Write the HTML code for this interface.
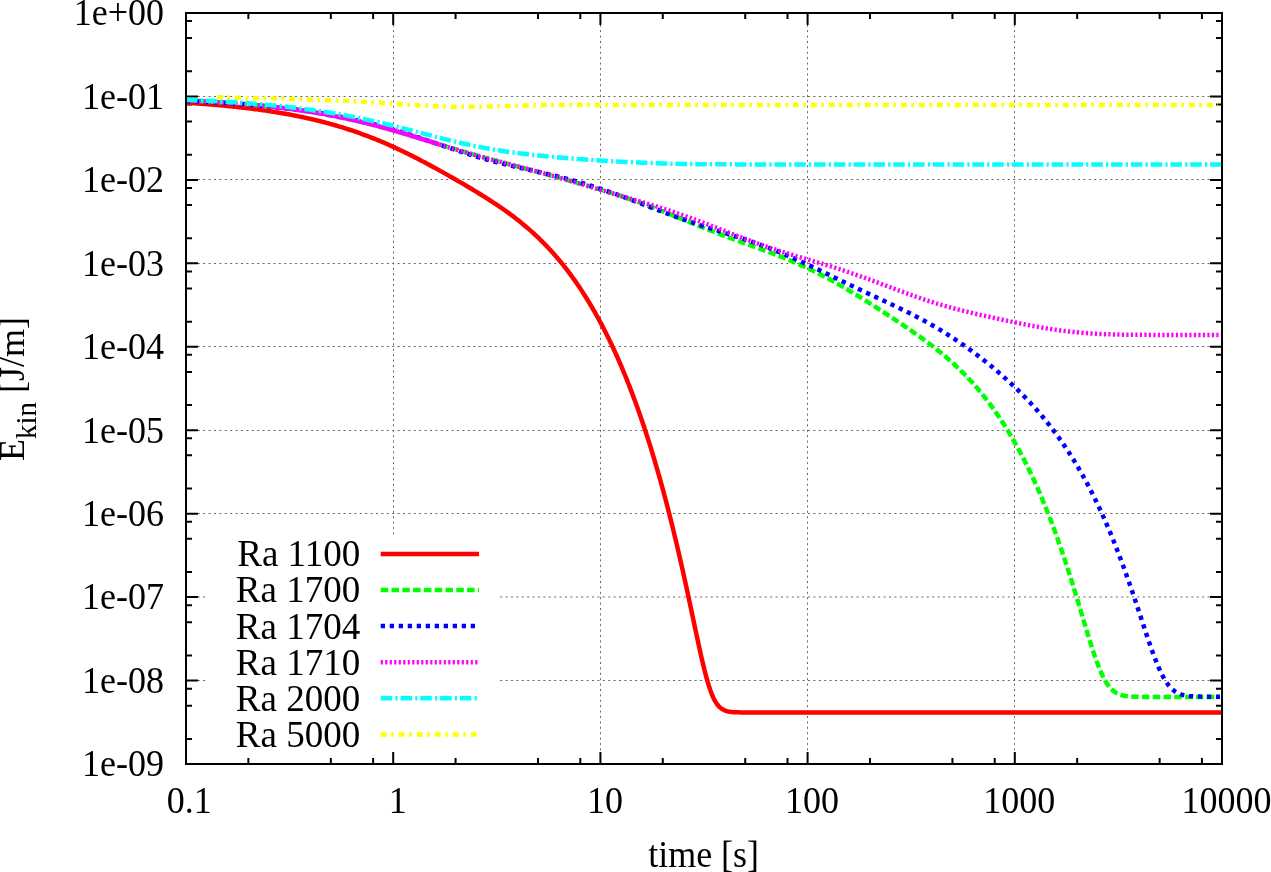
<!DOCTYPE html>
<html><head><meta charset="utf-8"><style>html,body{margin:0;padding:0;background:#fff;overflow:hidden}svg{display:block;will-change:transform}</style></head>
<body><svg width="1271" height="872" viewBox="0 0 1271 872" font-family='"Liberation Serif", serif' font-size="36" fill="#000">
<path d="M393.5 14.0V763.0 M600.5 14.0V763.0 M807.5 14.0V763.0 M1014.5 14.0V763.0 M187.0 96.5H1221.0 M187.0 179.5H1221.0 M187.0 263.5H1221.0 M187.0 346.5H1221.0 M187.0 430.5H1221.0 M187.0 513.5H1221.0 M187.0 597.0H1221.0 M187.0 680.5H1221.0" stroke="#666" stroke-width="1" stroke-dasharray="2 3.4" fill="none"/>
<rect x="207" y="537" width="293" height="226" fill="#fff"/>
<path d="M186.00 764.0v-12M186.00 13.0v12 M248.37 764.0v-6M248.37 13.0v6 M330.83 764.0v-6M330.83 13.0v6 M373.12 764.0v-6M373.12 13.0v6 M393.20 764.0v-12M393.20 13.0v12 M455.57 764.0v-6M455.57 13.0v6 M538.03 764.0v-6M538.03 13.0v6 M580.32 764.0v-6M580.32 13.0v6 M600.40 764.0v-12M600.40 13.0v12 M662.77 764.0v-6M662.77 13.0v6 M745.23 764.0v-6M745.23 13.0v6 M787.52 764.0v-6M787.52 13.0v6 M807.60 764.0v-12M807.60 13.0v12 M869.97 764.0v-6M869.97 13.0v6 M952.43 764.0v-6M952.43 13.0v6 M994.72 764.0v-6M994.72 13.0v6 M1014.80 764.0v-12M1014.80 13.0v12 M1077.17 764.0v-6M1077.17 13.0v6 M1159.63 764.0v-6M1159.63 13.0v6 M1201.92 764.0v-6M1201.92 13.0v6 M1222.00 764.0v-12M1222.00 13.0v12 M186.0 13.00h12M1222.0 13.00h-12 M186.0 96.44h12M1222.0 96.44h-12 M186.0 71.33h6M1222.0 71.33h-6 M186.0 38.12h6M1222.0 38.12h-6 M186.0 21.09h6M1222.0 21.09h-6 M186.0 179.89h12M1222.0 179.89h-12 M186.0 154.77h6M1222.0 154.77h-6 M186.0 121.56h6M1222.0 121.56h-6 M186.0 104.53h6M1222.0 104.53h-6 M186.0 263.33h12M1222.0 263.33h-12 M186.0 238.21h6M1222.0 238.21h-6 M186.0 205.01h6M1222.0 205.01h-6 M186.0 187.98h6M1222.0 187.98h-6 M186.0 346.78h12M1222.0 346.78h-12 M186.0 321.66h6M1222.0 321.66h-6 M186.0 288.45h6M1222.0 288.45h-6 M186.0 271.42h6M1222.0 271.42h-6 M186.0 430.22h12M1222.0 430.22h-12 M186.0 405.10h6M1222.0 405.10h-6 M186.0 371.90h6M1222.0 371.90h-6 M186.0 354.86h6M1222.0 354.86h-6 M186.0 513.67h12M1222.0 513.67h-12 M186.0 488.55h6M1222.0 488.55h-6 M186.0 455.34h6M1222.0 455.34h-6 M186.0 438.31h6M1222.0 438.31h-6 M186.0 597.11h12M1222.0 597.11h-12 M186.0 571.99h6M1222.0 571.99h-6 M186.0 538.79h6M1222.0 538.79h-6 M186.0 521.75h6M1222.0 521.75h-6 M186.0 680.56h12M1222.0 680.56h-12 M186.0 655.44h6M1222.0 655.44h-6 M186.0 622.23h6M1222.0 622.23h-6 M186.0 605.20h6M1222.0 605.20h-6 M186.0 764.00h12M1222.0 764.00h-12 M186.0 738.88h6M1222.0 738.88h-6 M186.0 705.67h6M1222.0 705.67h-6 M186.0 688.64h6M1222.0 688.64h-6" stroke="#000" stroke-width="2" fill="none"/>
<path d="M186.00 102.74 L187.50 102.83 L189.00 102.93 L190.51 103.02 L192.01 103.12 L193.51 103.22 L195.01 103.33 L196.52 103.43 L198.02 103.54 L199.52 103.65 L201.02 103.76 L202.53 103.87 L204.03 103.98 L205.53 104.10 L207.03 104.21 L208.53 104.33 L210.04 104.45 L211.54 104.58 L213.04 104.70 L214.54 104.83 L216.05 104.96 L217.55 105.09 L219.05 105.22 L220.55 105.36 L222.05 105.49 L223.56 105.63 L225.06 105.77 L226.56 105.92 L228.06 106.07 L229.57 106.21 L231.07 106.37 L232.57 106.52 L234.07 106.68 L235.58 106.83 L237.08 107.00 L238.58 107.16 L240.08 107.33 L241.58 107.50 L243.09 107.67 L244.59 107.84 L246.09 108.02 L247.59 108.20 L249.10 108.38 L250.60 108.57 L252.10 108.76 L253.60 108.95 L255.10 109.15 L256.61 109.34 L258.11 109.54 L259.61 109.75 L261.11 109.96 L262.62 110.17 L264.12 110.38 L265.62 110.60 L267.12 110.82 L268.63 111.05 L270.13 111.27 L271.63 111.50 L273.13 111.74 L274.63 111.98 L276.14 112.22 L277.64 112.47 L279.14 112.72 L280.64 112.97 L282.15 113.23 L283.65 113.49 L285.15 113.76 L286.65 114.03 L288.15 114.30 L289.66 114.58 L291.16 114.86 L292.66 115.15 L294.16 115.44 L295.67 115.74 L297.17 116.04 L298.67 116.34 L300.17 116.65 L301.68 116.96 L303.18 117.28 L304.68 117.61 L306.18 117.93 L307.68 118.27 L309.19 118.60 L310.69 118.95 L312.19 119.30 L313.69 119.65 L315.20 120.01 L316.70 120.37 L318.20 120.74 L319.70 121.11 L321.20 121.49 L322.71 121.88 L324.21 122.27 L325.71 122.66 L327.16 123.05 L328.61 123.44 L330.06 123.84 L331.51 124.24 L332.96 124.65 L334.41 125.06 L335.86 125.48 L337.32 125.91 L338.77 126.34 L340.22 126.78 L341.67 127.22 L343.12 127.67 L344.57 128.12 L346.02 128.58 L347.47 129.04 L348.92 129.51 L350.37 129.99 L351.82 130.47 L353.27 130.96 L354.72 131.46 L356.17 131.96 L357.62 132.46 L359.07 132.98 L360.52 133.50 L361.97 134.02 L363.42 134.55 L364.87 135.09 L366.32 135.63 L367.78 136.18 L369.23 136.74 L370.68 137.30 L372.07 137.85 L373.47 138.40 L374.87 138.96 L376.27 139.53 L377.67 140.10 L379.07 140.68 L380.47 141.26 L381.87 141.85 L383.26 142.44 L384.66 143.04 L386.06 143.64 L387.46 144.26 L388.86 144.87 L390.26 145.49 L391.66 146.12 L393.05 146.75 L394.45 147.39 L395.85 148.04 L397.25 148.69 L398.65 149.34 L400.05 150.00 L401.45 150.67 L402.85 151.34 L404.24 152.01 L405.64 152.69 L407.04 153.38 L408.39 154.04 L409.74 154.71 L411.08 155.38 L412.43 156.06 L413.78 156.74 L415.12 157.43 L416.47 158.12 L417.82 158.81 L419.16 159.51 L420.51 160.21 L421.86 160.91 L423.20 161.62 L424.55 162.33 L425.90 163.05 L427.24 163.77 L428.59 164.49 L429.94 165.21 L431.29 165.94 L432.63 166.67 L433.98 167.41 L435.33 168.15 L436.67 168.89 L438.02 169.63 L439.37 170.37 L440.71 171.12 L442.06 171.87 L443.41 172.63 L444.75 173.38 L446.10 174.14 L447.45 174.90 L448.79 175.66 L450.14 176.43 L451.49 177.19 L452.84 177.96 L454.18 178.74 L455.53 179.51 L456.88 180.29 L458.22 181.07 L459.57 181.85 L460.92 182.63 L462.26 183.42 L463.56 184.17 L464.85 184.93 L466.15 185.70 L467.44 186.46 L468.74 187.23 L470.03 188.00 L471.33 188.77 L472.62 189.55 L473.92 190.33 L475.21 191.11 L476.51 191.90 L477.80 192.69 L479.10 193.48 L480.39 194.28 L481.69 195.08 L482.98 195.89 L484.28 196.70 L485.57 197.51 L486.87 198.33 L488.16 199.15 L489.46 199.98 L490.75 200.82 L492.05 201.66 L493.34 202.51 L494.64 203.36 L495.93 204.22 L497.23 205.09 L498.53 205.96 L499.77 206.81 L501.01 207.66 L502.25 208.52 L503.50 209.38 L504.74 210.26 L505.98 211.14 L507.23 212.03 L508.47 212.93 L509.71 213.84 L510.96 214.76 L512.20 215.68 L513.44 216.62 L514.69 217.57 L515.88 218.48 L517.07 219.41 L518.26 220.34 L519.45 221.29 L520.64 222.25 L521.84 223.21 L523.03 224.19 L524.22 225.18 L525.41 226.17 L526.60 227.19 L527.74 228.16 L528.88 229.15 L530.02 230.15 L531.16 231.16 L532.30 232.18 L533.44 233.22 L534.58 234.26 L535.72 235.32 L536.86 236.39 L537.95 237.43 L539.03 238.47 L540.12 239.53 L541.21 240.60 L542.30 241.68 L543.39 242.77 L544.47 243.88 L545.56 245.00 L546.65 246.13 L547.69 247.22 L548.72 248.32 L549.76 249.44 L550.79 250.56 L551.83 251.70 L552.87 252.85 L553.90 254.02 L554.94 255.20 L555.97 256.39 L556.96 257.53 L557.94 258.69 L558.93 259.86 L559.91 261.04 L560.90 262.23 L561.88 263.44 L562.86 264.66 L563.85 265.89 L564.78 267.07 L565.71 268.26 L566.65 269.46 L567.58 270.68 L568.51 271.91 L569.44 273.15 L570.38 274.40 L571.31 275.67 L572.24 276.95 L573.12 278.17 L574.00 279.40 L574.88 280.64 L575.76 281.90 L576.64 283.17 L577.52 284.45 L578.40 285.74 L579.29 287.04 L580.17 288.36 L580.99 289.61 L581.82 290.87 L582.65 292.15 L583.48 293.43 L584.31 294.73 L585.14 296.04 L585.97 297.36 L586.80 298.69 L587.63 300.04 L588.45 301.39 L589.23 302.68 L590.01 303.97 L590.79 305.28 L591.56 306.59 L592.34 307.92 L593.12 309.26 L593.89 310.61 L594.67 311.97 L595.45 313.34 L596.22 314.73 L597.00 316.12 L597.73 317.44 L598.45 318.76 L599.18 320.10 L599.90 321.44 L600.63 322.80 L601.35 324.16 L602.08 325.54 L602.80 326.93 L603.53 328.33 L604.25 329.74 L604.98 331.16 L605.70 332.59 L606.38 333.93 L607.05 335.28 L607.72 336.64 L608.40 338.01 L609.07 339.39 L609.75 340.79 L610.42 342.19 L611.09 343.60 L611.77 345.02 L612.44 346.45 L613.11 347.89 L613.79 349.34 L614.46 350.81 L615.13 352.28 L615.75 353.65 L616.38 355.03 L617.00 356.42 L617.62 357.82 L618.24 359.23 L618.86 360.64 L619.48 362.07 L620.11 363.51 L620.73 364.95 L621.35 366.41 L621.97 367.87 L622.59 369.35 L623.21 370.84 L623.84 372.33 L624.46 373.84 L625.03 375.23 L625.60 376.62 L626.17 378.03 L626.74 379.44 L627.31 380.87 L627.88 382.30 L628.45 383.74 L629.02 385.19 L629.59 386.65 L630.16 388.12 L630.73 389.60 L631.30 391.09 L631.86 392.58 L632.43 394.09 L633.00 395.60 L633.57 397.12 L634.14 398.66 L634.71 400.20 L635.23 401.61 L635.75 403.03 L636.27 404.46 L636.79 405.89 L637.30 407.33 L637.82 408.78 L638.34 410.24 L638.86 411.71 L639.38 413.19 L639.89 414.67 L640.41 416.16 L640.93 417.66 L641.45 419.17 L641.97 420.69 L642.48 422.21 L643.00 423.75 L643.52 425.29 L644.04 426.84 L644.56 428.40 L645.07 429.97 L645.59 431.55 L646.06 432.98 L646.53 434.41 L646.99 435.85 L647.46 437.30 L647.92 438.76 L648.39 440.22 L648.86 441.70 L649.32 443.17 L649.79 444.66 L650.25 446.15 L650.72 447.66 L651.19 449.16 L651.65 450.68 L652.12 452.20 L652.59 453.74 L653.05 455.28 L653.52 456.82 L653.98 458.38 L654.45 459.94 L654.92 461.51 L655.38 463.09 L655.85 464.68 L656.32 466.27 L656.78 467.87 L657.25 469.48 L657.71 471.10 L658.13 472.55 L658.54 474.00 L658.96 475.46 L659.37 476.92 L659.79 478.39 L660.20 479.87 L660.62 481.35 L661.03 482.84 L661.44 484.34 L661.86 485.85 L662.27 487.36 L662.69 488.87 L663.10 490.40 L663.52 491.93 L663.93 493.47 L664.35 495.01 L664.76 496.56 L665.17 498.12 L665.59 499.69 L666.00 501.26 L666.42 502.84 L666.83 504.42 L667.25 506.01 L667.66 507.61 L668.07 509.22 L668.49 510.83 L668.90 512.45 L669.32 514.08 L669.73 515.71 L670.15 517.35 L670.56 519.00 L670.98 520.66 L671.39 522.32 L671.75 523.78 L672.12 525.25 L672.48 526.72 L672.84 528.20 L673.20 529.68 L673.57 531.17 L673.93 532.66 L674.29 534.16 L674.65 535.66 L675.02 537.17 L675.38 538.69 L675.74 540.21 L676.10 541.73 L676.47 543.26 L676.83 544.80 L677.19 546.34 L677.55 547.89 L677.92 549.44 L678.28 551.00 L678.64 552.56 L679.01 554.13 L679.37 555.71 L679.73 557.29 L680.09 558.87 L680.46 560.46 L680.82 562.06 L681.18 563.66 L681.54 565.26 L681.91 566.87 L682.27 568.49 L682.63 570.11 L682.99 571.74 L683.36 573.37 L683.72 575.00 L684.08 576.64 L684.44 578.29 L684.81 579.94 L685.17 581.59 L685.53 583.25 L685.89 584.91 L686.26 586.58 L686.62 588.25 L686.98 589.92 L687.35 591.60 L687.71 593.29 L688.07 594.97 L688.43 596.66 L688.80 598.36 L689.16 600.05 L689.52 601.75 L689.88 603.45 L690.25 605.16 L690.61 606.86 L690.97 608.57 L691.33 610.28 L691.65 611.75 L691.96 613.22 L692.27 614.69 L692.58 616.16 L692.89 617.63 L693.20 619.10 L693.51 620.57 L693.82 622.05 L694.13 623.52 L694.44 624.99 L694.75 626.46 L695.06 627.92 L695.43 629.63 L695.79 631.34 L696.15 633.05 L696.51 634.75 L696.88 636.45 L697.24 638.14 L697.60 639.83 L697.96 641.52 L698.33 643.19 L698.69 644.86 L699.05 646.53 L699.42 648.18 L699.78 649.83 L700.14 651.46 L700.50 653.09 L700.87 654.71 L701.23 656.31 L701.59 657.90 L701.95 659.48 L702.32 661.04 L702.68 662.59 L703.04 664.12 L703.40 665.64 L703.77 667.13 L704.13 668.61 L704.49 670.07 L704.91 671.71 L705.32 673.33 L705.74 674.91 L706.15 676.47 L706.56 677.99 L706.98 679.48 L707.39 680.94 L707.86 682.54 L708.33 684.09 L708.79 685.60 L709.26 687.06 L709.78 688.62 L710.29 690.12 L710.81 691.56 L711.38 693.08 L711.95 694.51 L712.57 696.00 L713.19 697.39 L713.87 698.80 L714.59 700.20 L715.37 701.58 L716.20 702.92 L717.08 704.18 L718.01 705.37 L719.05 706.52 L720.19 707.60 L721.38 708.54 L722.67 709.37 L724.02 710.07 L725.42 710.64 L726.87 711.09 L728.37 711.45 L729.88 711.72 L731.38 711.92 L732.88 712.07 L734.38 712.18 L735.88 712.26 L737.39 712.32 L738.89 712.36 L740.39 712.39 L741.89 712.41 L743.40 712.43 L744.90 712.44 L746.40 712.44 L747.90 712.45 L749.40 712.45 L750.91 712.46 L752.41 712.46 L753.91 712.46 L755.41 712.46 L756.92 712.46 L758.42 712.46 L759.92 712.46 L761.42 712.46 L762.93 712.46 L764.43 712.46 L765.93 712.46 L767.43 712.46 L768.93 712.46 L770.44 712.46 L771.94 712.46 L773.44 712.46 L774.94 712.46 L776.45 712.46 L777.95 712.46 L779.45 712.46 L780.95 712.46 L782.46 712.46 L783.96 712.46 L785.46 712.46 L786.96 712.46 L788.46 712.46 L789.97 712.46 L791.47 712.46 L792.97 712.46 L794.47 712.46 L795.98 712.46 L797.48 712.46 L798.98 712.46 L800.48 712.46 L801.98 712.46 L803.49 712.46 L804.99 712.46 L806.49 712.46 L807.99 712.46 L809.50 712.46 L811.00 712.46 L812.50 712.46 L814.00 712.46 L815.51 712.46 L817.01 712.46 L818.51 712.46 L820.01 712.46 L821.51 712.46 L823.02 712.46 L824.52 712.46 L826.02 712.46 L827.52 712.46 L829.03 712.46 L830.53 712.46 L832.03 712.46 L833.53 712.46 L835.03 712.46 L836.54 712.46 L838.04 712.46 L839.54 712.46 L841.04 712.46 L842.55 712.46 L844.05 712.46 L845.55 712.46 L847.05 712.46 L848.56 712.46 L850.06 712.46 L851.56 712.46 L853.06 712.46 L854.56 712.46 L856.07 712.46 L857.57 712.46 L859.07 712.46 L860.57 712.46 L862.08 712.46 L863.58 712.46 L865.08 712.46 L866.58 712.46 L868.08 712.46 L869.59 712.46 L871.09 712.46 L872.59 712.46 L874.09 712.46 L875.60 712.46 L877.10 712.46 L878.60 712.46 L880.10 712.46 L881.61 712.46 L883.11 712.46 L884.61 712.46 L886.11 712.46 L887.61 712.46 L889.12 712.46 L890.62 712.46 L892.12 712.46 L893.62 712.46 L895.13 712.46 L896.63 712.46 L898.13 712.46 L899.63 712.46 L901.13 712.46 L902.64 712.46 L904.14 712.46 L905.64 712.46 L907.14 712.46 L908.65 712.46 L910.15 712.46 L911.65 712.46 L913.15 712.46 L914.66 712.46 L916.16 712.46 L917.66 712.46 L919.16 712.46 L920.66 712.46 L922.17 712.46 L923.67 712.46 L925.17 712.46 L926.67 712.46 L928.18 712.46 L929.68 712.46 L931.18 712.46 L932.68 712.46 L934.18 712.46 L935.69 712.46 L937.19 712.46 L938.69 712.46 L940.19 712.46 L941.70 712.46 L943.20 712.46 L944.70 712.46 L946.20 712.46 L947.71 712.46 L949.21 712.46 L950.71 712.46 L952.21 712.46 L953.71 712.46 L955.22 712.46 L956.72 712.46 L958.22 712.46 L959.72 712.46 L961.23 712.46 L962.73 712.46 L964.23 712.46 L965.73 712.46 L967.23 712.46 L968.74 712.46 L970.24 712.46 L971.74 712.46 L973.24 712.46 L974.75 712.46 L976.25 712.46 L977.75 712.46 L979.25 712.46 L980.76 712.46 L982.26 712.46 L983.76 712.46 L985.26 712.46 L986.76 712.46 L988.27 712.46 L989.77 712.46 L991.27 712.46 L992.77 712.46 L994.28 712.46 L995.78 712.46 L997.28 712.46 L998.78 712.46 L1000.28 712.46 L1001.79 712.46 L1003.29 712.46 L1004.79 712.46 L1006.29 712.46 L1007.80 712.46 L1009.30 712.46 L1010.80 712.46 L1012.30 712.46 L1013.81 712.46 L1015.31 712.46 L1016.81 712.46 L1018.31 712.46 L1019.81 712.46 L1021.32 712.46 L1022.82 712.46 L1024.32 712.46 L1025.82 712.46 L1027.33 712.46 L1028.83 712.46 L1030.33 712.46 L1031.83 712.46 L1033.33 712.46 L1034.84 712.46 L1036.34 712.46 L1037.84 712.46 L1039.34 712.46 L1040.85 712.46 L1042.35 712.46 L1043.85 712.46 L1045.35 712.46 L1046.86 712.46 L1048.36 712.46 L1049.86 712.46 L1051.36 712.46 L1052.86 712.46 L1054.37 712.46 L1055.87 712.46 L1057.37 712.46 L1058.87 712.46 L1060.38 712.46 L1061.88 712.46 L1063.38 712.46 L1064.88 712.46 L1066.39 712.46 L1067.89 712.46 L1069.39 712.46 L1070.89 712.46 L1072.39 712.46 L1073.90 712.46 L1075.40 712.46 L1076.90 712.46 L1078.40 712.46 L1079.91 712.46 L1081.41 712.46 L1082.91 712.46 L1084.41 712.46 L1085.91 712.46 L1087.42 712.46 L1088.92 712.46 L1090.42 712.46 L1091.92 712.46 L1093.43 712.46 L1094.93 712.46 L1096.43 712.46 L1097.93 712.46 L1099.44 712.46 L1100.94 712.46 L1102.44 712.46 L1103.94 712.46 L1105.44 712.46 L1106.95 712.46 L1108.45 712.46 L1109.95 712.46 L1111.45 712.46 L1112.96 712.46 L1114.46 712.46 L1115.96 712.46 L1117.46 712.46 L1118.96 712.46 L1120.47 712.46 L1121.97 712.46 L1123.47 712.46 L1124.97 712.46 L1126.48 712.46 L1127.98 712.46 L1129.48 712.46 L1130.98 712.46 L1132.49 712.46 L1133.99 712.46 L1135.49 712.46 L1136.99 712.46 L1138.49 712.46 L1140.00 712.46 L1141.50 712.46 L1143.00 712.46 L1144.50 712.46 L1146.01 712.46 L1147.51 712.46 L1149.01 712.46 L1150.51 712.46 L1152.01 712.46 L1153.52 712.46 L1155.02 712.46 L1156.52 712.46 L1158.02 712.46 L1159.53 712.46 L1161.03 712.46 L1162.53 712.46 L1164.03 712.46 L1165.54 712.46 L1167.04 712.46 L1168.54 712.46 L1170.04 712.46 L1171.54 712.46 L1173.05 712.46 L1174.55 712.46 L1176.05 712.46 L1177.55 712.46 L1179.06 712.46 L1180.56 712.46 L1182.06 712.46 L1183.56 712.46 L1185.06 712.46 L1186.57 712.46 L1188.07 712.46 L1189.57 712.46 L1191.07 712.46 L1192.58 712.46 L1194.08 712.46 L1195.58 712.46 L1197.08 712.46 L1198.59 712.46 L1200.09 712.46 L1201.59 712.46 L1203.09 712.46 L1204.59 712.46 L1206.10 712.46 L1207.60 712.46 L1209.10 712.46 L1210.60 712.46 L1212.11 712.46 L1213.61 712.46 L1215.11 712.46 L1216.61 712.46 L1218.11 712.46 L1219.62 712.46 L1221.12 712.46 L1222.00 712.46" stroke="#ff0000" stroke-width="4.5" fill="none" stroke-linejoin="round"/>
<path d="M186.00 100.37 L187.55 100.45 L189.10 100.52 L190.64 100.59 L192.19 100.67 L193.74 100.74 L195.29 100.82 L196.84 100.90 L198.38 100.98 L199.93 101.06 L201.48 101.14 L203.03 101.23 L204.58 101.31 L206.13 101.40 L207.67 101.49 L209.22 101.58 L210.77 101.67 L212.32 101.76 L213.87 101.86 L215.41 101.95 L216.96 102.05 L218.51 102.15 L220.06 102.25 L221.61 102.35 L223.15 102.46 L224.70 102.56 L226.20 102.67 L227.69 102.77 L229.19 102.88 L230.69 102.99 L232.18 103.10 L233.68 103.21 L235.18 103.33 L236.67 103.44 L238.17 103.56 L239.67 103.68 L241.16 103.80 L242.66 103.92 L244.16 104.05 L245.65 104.18 L247.15 104.30 L248.65 104.44 L250.14 104.57 L251.64 104.70 L253.13 104.84 L254.63 104.98 L256.13 105.12 L257.62 105.26 L259.12 105.41 L260.62 105.56 L262.11 105.71 L263.61 105.86 L265.11 106.01 L266.60 106.17 L268.10 106.33 L269.60 106.49 L271.09 106.65 L272.59 106.82 L274.09 106.99 L275.58 107.16 L277.08 107.33 L278.58 107.51 L280.07 107.69 L281.57 107.87 L283.06 108.06 L284.56 108.24 L286.06 108.43 L287.55 108.62 L289.05 108.82 L290.55 109.02 L292.04 109.22 L293.54 109.42 L295.04 109.63 L296.53 109.84 L298.03 110.05 L299.53 110.26 L301.02 110.48 L302.52 110.70 L304.02 110.93 L305.51 111.15 L307.01 111.38 L308.50 111.62 L310.00 111.85 L311.50 112.09 L312.99 112.34 L314.49 112.58 L315.99 112.83 L317.48 113.09 L318.98 113.34 L320.48 113.60 L321.97 113.86 L323.47 114.13 L324.97 114.40 L326.46 114.67 L327.96 114.95 L329.46 115.23 L330.95 115.51 L332.45 115.80 L333.94 116.09 L335.44 116.39 L336.94 116.68 L338.43 116.98 L339.93 117.29 L341.43 117.60 L342.92 117.91 L344.42 118.22 L345.92 118.54 L347.41 118.87 L348.91 119.19 L350.41 119.52 L351.90 119.86 L353.40 120.19 L354.90 120.53 L356.39 120.88 L357.89 121.23 L359.38 121.58 L360.88 121.93 L362.38 122.29 L363.87 122.66 L365.37 123.02 L366.87 123.39 L368.36 123.76 L369.86 124.14 L371.36 124.52 L372.85 124.90 L374.35 125.29 L375.85 125.68 L377.34 126.07 L378.84 126.47 L380.34 126.87 L381.83 127.27 L383.33 127.67 L384.82 128.08 L386.32 128.49 L387.82 128.91 L389.31 129.33 L390.76 129.73 L392.20 130.14 L393.65 130.55 L395.09 130.96 L396.54 131.38 L397.98 131.80 L399.43 132.21 L400.87 132.64 L402.32 133.06 L403.76 133.49 L405.21 133.91 L406.65 134.34 L408.10 134.77 L409.54 135.21 L410.99 135.64 L412.43 136.07 L413.88 136.51 L415.32 136.95 L416.77 137.39 L418.21 137.83 L419.66 138.27 L421.10 138.71 L422.55 139.15 L423.99 139.59 L425.44 140.04 L426.88 140.48 L428.33 140.93 L429.77 141.37 L431.22 141.81 L432.66 142.26 L434.11 142.70 L435.55 143.15 L436.99 143.59 L438.44 144.03 L439.88 144.47 L441.33 144.92 L442.77 145.36 L444.22 145.80 L445.66 146.24 L447.11 146.67 L448.55 147.11 L450.00 147.55 L451.44 147.98 L452.89 148.42 L454.33 148.85 L455.78 149.28 L457.22 149.71 L458.67 150.14 L460.11 150.57 L461.56 150.99 L463.00 151.42 L464.45 151.84 L465.89 152.26 L467.34 152.68 L468.78 153.10 L470.23 153.52 L471.67 153.93 L473.12 154.35 L474.56 154.76 L476.01 155.17 L477.45 155.58 L478.90 155.98 L480.34 156.39 L481.79 156.79 L483.23 157.20 L484.73 157.61 L486.22 158.03 L487.72 158.44 L489.22 158.86 L490.71 159.27 L492.21 159.68 L493.71 160.09 L495.20 160.49 L496.70 160.90 L498.20 161.31 L499.69 161.71 L501.19 162.12 L502.69 162.52 L504.18 162.93 L505.68 163.33 L507.17 163.73 L508.67 164.14 L510.17 164.54 L511.66 164.94 L513.16 165.34 L514.66 165.74 L516.15 166.15 L517.65 166.55 L519.15 166.95 L520.64 167.35 L522.14 167.75 L523.64 168.16 L525.13 168.56 L526.63 168.96 L528.13 169.36 L529.62 169.77 L531.12 170.17 L532.61 170.58 L534.11 170.98 L535.61 171.39 L537.10 171.79 L538.60 172.20 L540.10 172.60 L541.59 173.01 L543.09 173.42 L544.59 173.83 L546.08 174.24 L547.58 174.65 L549.08 175.05 L550.57 175.47 L552.07 175.88 L553.57 176.29 L555.06 176.70 L556.56 177.11 L558.05 177.53 L559.55 177.94 L561.05 178.36 L562.54 178.77 L564.04 179.19 L565.54 179.60 L566.98 180.01 L568.43 180.41 L569.87 180.82 L571.32 181.22 L572.76 181.63 L574.21 182.04 L575.65 182.44 L577.10 182.85 L578.54 183.26 L579.99 183.68 L581.43 184.09 L582.88 184.50 L584.32 184.92 L585.77 185.33 L587.21 185.75 L588.65 186.17 L590.10 186.59 L591.54 187.02 L592.99 187.44 L594.43 187.87 L595.88 188.29 L597.32 188.72 L598.77 189.16 L600.21 189.59 L601.66 190.03 L603.10 190.46 L604.55 190.91 L605.99 191.35 L607.44 191.79 L608.88 192.24 L610.33 192.69 L611.77 193.15 L613.22 193.60 L614.66 194.06 L616.11 194.52 L617.55 194.99 L619.00 195.46 L620.44 195.93 L621.89 196.40 L623.33 196.88 L624.78 197.36 L626.22 197.85 L627.67 198.34 L629.11 198.83 L630.56 199.32 L632.00 199.82 L633.45 200.32 L634.89 200.83 L636.34 201.34 L637.78 201.85 L639.23 202.37 L640.67 202.89 L642.12 203.41 L643.56 203.94 L645.00 204.47 L646.45 205.00 L647.89 205.54 L649.34 206.08 L650.78 206.62 L652.23 207.17 L653.67 207.72 L655.12 208.27 L656.56 208.83 L658.01 209.38 L659.45 209.95 L660.90 210.51 L662.34 211.08 L663.79 211.65 L665.23 212.22 L666.68 212.79 L668.12 213.37 L669.52 213.93 L670.91 214.48 L672.30 215.05 L673.70 215.61 L675.09 216.17 L676.48 216.74 L677.88 217.30 L679.27 217.87 L680.66 218.44 L682.06 219.00 L683.45 219.57 L684.84 220.14 L686.24 220.71 L687.63 221.28 L689.02 221.85 L690.42 222.42 L691.81 222.98 L693.20 223.55 L694.60 224.12 L695.99 224.68 L697.38 225.25 L698.77 225.81 L700.17 226.37 L701.56 226.93 L702.95 227.49 L704.35 228.05 L705.74 228.61 L707.19 229.18 L708.63 229.75 L710.08 230.32 L711.52 230.89 L712.97 231.46 L714.41 232.02 L715.86 232.58 L717.30 233.14 L718.75 233.69 L720.19 234.25 L721.63 234.80 L723.08 235.34 L724.52 235.89 L725.97 236.43 L727.41 236.97 L728.86 237.51 L730.30 238.05 L731.75 238.58 L733.19 239.11 L734.64 239.64 L736.08 240.17 L737.53 240.69 L738.97 241.22 L740.42 241.74 L741.86 242.26 L743.31 242.78 L744.75 243.30 L746.20 243.82 L747.64 244.34 L749.09 244.86 L750.53 245.38 L751.98 245.89 L753.42 246.41 L754.87 246.93 L756.31 247.45 L757.76 247.97 L759.20 248.49 L760.65 249.02 L762.09 249.54 L763.54 250.07 L764.98 250.60 L766.43 251.13 L767.87 251.66 L769.32 252.20 L770.76 252.74 L772.21 253.28 L773.65 253.83 L775.10 254.38 L776.54 254.94 L777.98 255.50 L779.43 256.06 L780.87 256.63 L782.32 257.20 L783.71 257.76 L785.11 258.32 L786.50 258.89 L787.89 259.46 L789.29 260.04 L790.68 260.62 L792.07 261.21 L793.47 261.80 L794.86 262.40 L796.25 263.01 L797.65 263.62 L799.04 264.23 L800.43 264.86 L801.83 265.49 L803.22 266.12 L804.61 266.76 L806.01 267.41 L807.40 268.06 L808.79 268.72 L810.18 269.39 L811.58 270.06 L812.97 270.74 L814.36 271.43 L815.76 272.12 L817.10 272.79 L818.44 273.47 L819.78 274.15 L821.12 274.84 L822.47 275.54 L823.81 276.24 L825.15 276.95 L826.49 277.66 L827.83 278.38 L829.17 279.11 L830.52 279.84 L831.86 280.58 L833.20 281.32 L834.54 282.07 L835.88 282.82 L837.22 283.58 L838.57 284.34 L839.91 285.11 L841.25 285.88 L842.59 286.66 L843.93 287.44 L845.27 288.23 L846.62 289.02 L847.91 289.79 L849.20 290.56 L850.49 291.33 L851.78 292.11 L853.07 292.89 L854.36 293.68 L855.65 294.47 L856.94 295.26 L858.23 296.05 L859.52 296.85 L860.81 297.66 L862.10 298.46 L863.39 299.27 L864.68 300.08 L865.97 300.89 L867.26 301.71 L868.55 302.53 L869.84 303.35 L871.13 304.17 L872.42 304.99 L873.71 305.82 L875.00 306.65 L876.29 307.48 L877.58 308.32 L878.87 309.15 L880.16 309.99 L881.45 310.83 L882.74 311.67 L884.03 312.51 L885.32 313.35 L886.61 314.20 L887.90 315.04 L889.19 315.89 L890.48 316.74 L891.77 317.59 L893.06 318.45 L894.35 319.30 L895.64 320.16 L896.93 321.02 L898.22 321.88 L899.51 322.74 L900.80 323.61 L902.09 324.48 L903.38 325.35 L904.67 326.22 L905.96 327.10 L907.25 327.98 L908.49 328.82 L909.73 329.67 L910.96 330.53 L912.20 331.39 L913.44 332.25 L914.68 333.11 L915.92 333.98 L917.16 334.85 L918.40 335.73 L919.63 336.61 L920.87 337.50 L922.11 338.39 L923.35 339.29 L924.59 340.20 L925.83 341.11 L927.06 342.02 L928.30 342.95 L929.54 343.88 L930.78 344.82 L932.02 345.76 L933.26 346.71 L934.44 347.64 L935.63 348.56 L936.82 349.50 L938.00 350.45 L939.19 351.40 L940.38 352.36 L941.56 353.34 L942.75 354.32 L943.94 355.31 L945.13 356.31 L946.31 357.32 L947.50 358.34 L948.63 359.33 L949.77 360.33 L950.91 361.34 L952.04 362.36 L953.18 363.39 L954.31 364.43 L955.45 365.48 L956.58 366.54 L957.72 367.62 L958.80 368.66 L959.88 369.71 L960.97 370.77 L962.05 371.84 L963.13 372.92 L964.22 374.02 L965.30 375.13 L966.39 376.25 L967.47 377.38 L968.50 378.48 L969.53 379.58 L970.57 380.70 L971.60 381.82 L972.63 382.96 L973.66 384.12 L974.69 385.28 L975.73 386.46 L976.76 387.65 L977.74 388.80 L978.72 389.96 L979.70 391.13 L980.68 392.31 L981.66 393.50 L982.64 394.71 L983.62 395.93 L984.60 397.16 L985.53 398.34 L986.46 399.54 L987.39 400.74 L988.32 401.96 L989.25 403.19 L990.17 404.43 L991.10 405.69 L992.03 406.95 L992.96 408.24 L993.84 409.46 L994.72 410.69 L995.59 411.94 L996.47 413.20 L997.35 414.47 L998.22 415.75 L999.10 417.04 L999.98 418.35 L1000.86 419.67 L1001.68 420.93 L1002.51 422.19 L1003.33 423.47 L1004.16 424.76 L1004.98 426.06 L1005.81 427.37 L1006.64 428.70 L1007.46 430.04 L1008.29 431.39 L1009.11 432.75 L1009.89 434.04 L1010.66 435.34 L1011.43 436.65 L1012.21 437.97 L1012.98 439.30 L1013.76 440.65 L1014.53 442.00 L1015.31 443.37 L1016.08 444.75 L1016.85 446.14 L1017.63 447.55 L1018.35 448.87 L1019.07 450.20 L1019.79 451.54 L1020.52 452.89 L1021.24 454.26 L1021.96 455.63 L1022.68 457.02 L1023.41 458.41 L1024.13 459.82 L1024.85 461.24 L1025.57 462.67 L1026.30 464.11 L1026.97 465.46 L1027.64 466.82 L1028.31 468.19 L1028.98 469.57 L1029.65 470.96 L1030.32 472.36 L1030.99 473.77 L1031.66 475.19 L1032.33 476.62 L1033.00 478.07 L1033.68 479.52 L1034.35 480.98 L1035.02 482.46 L1035.64 483.83 L1036.26 485.21 L1036.87 486.59 L1037.49 487.99 L1038.11 489.40 L1038.73 490.82 L1039.35 492.25 L1039.97 493.68 L1040.59 495.13 L1041.21 496.59 L1041.83 498.05 L1042.45 499.53 L1043.07 501.01 L1043.69 502.51 L1044.31 504.01 L1044.87 505.40 L1045.44 506.80 L1046.01 508.21 L1046.58 509.62 L1047.14 511.05 L1047.71 512.48 L1048.28 513.92 L1048.85 515.37 L1049.41 516.83 L1049.98 518.30 L1050.55 519.77 L1051.12 521.26 L1051.68 522.75 L1052.25 524.25 L1052.82 525.76 L1053.39 527.29 L1053.96 528.82 L1054.52 530.35 L1055.09 531.90 L1055.61 533.32 L1056.12 534.74 L1056.64 536.17 L1057.15 537.61 L1057.67 539.05 L1058.19 540.51 L1058.70 541.97 L1059.22 543.43 L1059.73 544.91 L1060.25 546.39 L1060.77 547.88 L1061.28 549.38 L1061.80 550.89 L1062.32 552.40 L1062.83 553.92 L1063.35 555.45 L1063.86 556.98 L1064.38 558.53 L1064.90 560.08 L1065.41 561.64 L1065.93 563.20 L1066.44 564.77 L1066.96 566.35 L1067.42 567.78 L1067.89 569.21 L1068.35 570.65 L1068.82 572.10 L1069.28 573.55 L1069.75 575.00 L1070.21 576.47 L1070.67 577.93 L1071.14 579.40 L1071.60 580.88 L1072.07 582.36 L1072.53 583.85 L1073.00 585.34 L1073.46 586.84 L1073.93 588.34 L1074.39 589.85 L1074.85 591.36 L1075.32 592.87 L1075.78 594.39 L1076.25 595.91 L1076.71 597.44 L1077.18 598.97 L1077.64 600.50 L1078.11 602.03 L1078.57 603.57 L1079.03 605.11 L1079.50 606.66 L1079.96 608.20 L1080.43 609.75 L1080.89 611.30 L1081.36 612.85 L1081.82 614.40 L1082.29 615.95 L1082.75 617.50 L1083.21 619.05 L1083.68 620.60 L1084.14 622.15 L1084.61 623.69 L1085.07 625.24 L1085.54 626.78 L1086.00 628.32 L1086.47 629.85 L1086.93 631.38 L1087.39 632.91 L1087.86 634.43 L1088.32 635.95 L1088.79 637.46 L1089.25 638.96 L1089.72 640.45 L1090.18 641.94 L1090.64 643.41 L1091.11 644.88 L1091.57 646.33 L1092.04 647.77 L1092.50 649.20 L1093.02 650.78 L1093.53 652.33 L1094.05 653.87 L1094.57 655.39 L1095.08 656.89 L1095.60 658.37 L1096.11 659.82 L1096.63 661.25 L1097.20 662.79 L1097.77 664.31 L1098.33 665.78 L1098.90 667.23 L1099.47 668.64 L1100.09 670.14 L1100.71 671.59 L1101.33 672.99 L1102.00 674.46 L1102.67 675.88 L1103.34 677.24 L1104.06 678.63 L1104.78 679.96 L1105.56 681.31 L1106.38 682.67 L1107.21 683.94 L1108.09 685.19 L1109.02 686.42 L1110.00 687.61 L1111.03 688.74 L1112.11 689.80 L1113.25 690.79 L1114.49 691.74 L1115.78 692.59 L1117.12 693.35 L1118.51 694.01 L1119.96 694.58 L1121.40 695.04 L1122.90 695.44 L1124.39 695.75 L1125.89 696.01 L1127.39 696.21 L1128.88 696.37 L1130.38 696.49 L1131.93 696.60 L1133.47 696.67 L1135.02 696.74 L1136.57 696.78 L1138.12 696.82 L1139.67 696.84 L1141.22 696.86 L1142.76 696.88 L1144.31 696.89 L1145.86 696.90 L1147.41 696.90 L1148.96 696.91 L1150.50 696.91 L1152.05 696.91 L1153.60 696.92 L1155.15 696.92 L1156.70 696.92 L1158.24 696.92 L1159.79 696.92 L1161.34 696.92 L1162.89 696.92 L1164.44 696.92 L1165.98 696.92 L1167.53 696.92 L1169.08 696.92 L1170.63 696.92 L1172.18 696.92 L1173.72 696.92 L1175.27 696.92 L1176.82 696.92 L1178.37 696.92 L1179.92 696.92 L1181.47 696.92 L1183.01 696.92 L1184.56 696.92 L1186.11 696.92 L1187.66 696.92 L1189.21 696.92 L1190.75 696.92 L1192.30 696.92 L1193.85 696.92 L1195.40 696.92 L1196.95 696.92 L1198.49 696.92 L1200.04 696.92 L1201.59 696.92 L1203.14 696.92 L1204.69 696.92 L1206.23 696.92 L1207.78 696.92 L1209.33 696.92 L1210.88 696.92 L1212.43 696.92 L1213.97 696.92 L1215.52 696.92 L1217.07 696.92 L1218.00 696.92" stroke="#00ff00" stroke-width="4.5" stroke-dasharray="7.5 3.3" fill="none" stroke-linejoin="round"/>
<path d="M186.00 101.06 L187.50 101.12 L189.00 101.18 L190.50 101.25 L192.00 101.31 L193.50 101.38 L195.00 101.44 L196.50 101.51 L197.99 101.58 L199.49 101.65 L200.99 101.72 L202.49 101.79 L203.99 101.86 L205.49 101.94 L206.99 102.01 L208.49 102.09 L209.99 102.17 L211.49 102.25 L212.99 102.33 L214.49 102.41 L215.99 102.49 L217.49 102.58 L218.99 102.66 L220.49 102.75 L221.98 102.84 L223.48 102.93 L224.98 103.02 L226.48 103.11 L227.98 103.21 L229.48 103.30 L230.98 103.40 L232.48 103.50 L233.98 103.60 L235.48 103.70 L236.98 103.81 L238.48 103.91 L239.98 104.02 L241.48 104.13 L242.98 104.24 L244.48 104.35 L245.97 104.47 L247.47 104.58 L248.97 104.70 L250.47 104.82 L251.97 104.94 L253.47 105.07 L254.97 105.19 L256.47 105.32 L257.97 105.45 L259.47 105.58 L260.97 105.72 L262.47 105.85 L263.97 105.99 L265.47 106.13 L266.97 106.27 L268.47 106.42 L269.96 106.56 L271.46 106.71 L272.96 106.86 L274.46 107.02 L275.96 107.18 L277.46 107.33 L278.96 107.49 L280.46 107.66 L281.96 107.82 L283.46 107.99 L284.96 108.16 L286.46 108.34 L287.96 108.52 L289.46 108.69 L290.96 108.88 L292.46 109.06 L293.95 109.25 L295.45 109.44 L296.95 109.63 L298.45 109.83 L299.95 110.03 L301.45 110.23 L302.95 110.43 L304.45 110.64 L305.95 110.85 L307.45 111.07 L308.95 111.29 L310.45 111.51 L311.95 111.73 L313.45 111.96 L314.95 112.19 L316.45 112.42 L317.94 112.66 L319.44 112.90 L320.94 113.14 L322.44 113.39 L323.94 113.64 L325.44 113.90 L326.94 114.16 L328.44 114.42 L329.94 114.68 L331.44 114.95 L332.94 115.23 L334.44 115.50 L335.94 115.78 L337.44 116.07 L338.94 116.36 L340.44 116.65 L341.93 116.95 L343.43 117.25 L344.93 117.55 L346.43 117.86 L347.93 118.17 L349.43 118.49 L350.93 118.81 L352.43 119.13 L353.93 119.46 L355.43 119.79 L356.93 120.13 L358.43 120.47 L359.93 120.82 L361.43 121.17 L362.93 121.52 L364.43 121.88 L365.92 122.24 L367.42 122.61 L368.92 122.98 L370.42 123.35 L371.92 123.73 L373.42 124.12 L374.92 124.50 L376.42 124.90 L377.92 125.29 L379.42 125.69 L380.92 126.10 L382.37 126.49 L383.81 126.89 L385.26 127.30 L386.71 127.70 L388.16 128.11 L389.60 128.53 L391.05 128.94 L392.50 129.37 L393.95 129.79 L395.40 130.22 L396.84 130.65 L398.29 131.09 L399.74 131.53 L401.19 131.97 L402.63 132.42 L404.08 132.86 L405.53 133.32 L406.98 133.77 L408.42 134.23 L409.87 134.69 L411.32 135.15 L412.77 135.62 L414.22 136.09 L415.66 136.56 L417.11 137.04 L418.56 137.51 L420.01 137.99 L421.45 138.47 L422.90 138.95 L424.35 139.44 L425.80 139.92 L427.24 140.41 L428.69 140.90 L430.14 141.38 L431.59 141.87 L433.03 142.37 L434.48 142.86 L435.93 143.35 L437.38 143.84 L438.83 144.33 L440.27 144.82 L441.72 145.32 L443.17 145.81 L444.62 146.30 L446.06 146.79 L447.51 147.28 L448.96 147.76 L450.41 148.25 L451.85 148.74 L453.30 149.22 L454.75 149.70 L456.20 150.18 L457.65 150.65 L459.09 151.13 L460.54 151.60 L461.99 152.07 L463.44 152.53 L464.88 153.00 L466.33 153.46 L467.78 153.91 L469.23 154.37 L470.67 154.81 L472.12 155.26 L473.57 155.70 L475.02 156.14 L476.47 156.57 L477.91 157.00 L479.36 157.43 L480.81 157.85 L482.26 158.26 L483.70 158.67 L485.15 159.08 L486.60 159.49 L488.05 159.89 L489.49 160.28 L490.99 160.68 L492.49 161.08 L493.99 161.48 L495.49 161.87 L496.99 162.26 L498.49 162.64 L499.99 163.02 L501.49 163.39 L502.99 163.77 L504.49 164.13 L505.99 164.50 L507.49 164.86 L508.99 165.22 L510.49 165.57 L511.98 165.92 L513.48 166.27 L514.98 166.62 L516.48 166.96 L517.98 167.31 L519.48 167.65 L520.98 167.99 L522.48 168.33 L523.98 168.66 L525.48 169.00 L526.98 169.34 L528.48 169.67 L529.98 170.01 L531.48 170.34 L532.98 170.68 L534.48 171.02 L535.97 171.36 L537.47 171.70 L538.97 172.04 L540.47 172.38 L541.97 172.72 L543.47 173.07 L544.97 173.41 L546.47 173.76 L547.97 174.12 L549.47 174.47 L550.97 174.83 L552.47 175.19 L553.97 175.55 L555.47 175.92 L556.97 176.29 L558.47 176.66 L559.96 177.04 L561.46 177.42 L562.96 177.81 L564.46 178.19 L565.96 178.59 L567.46 178.98 L568.96 179.38 L570.46 179.79 L571.91 180.18 L573.36 180.58 L574.80 180.99 L576.25 181.39 L577.70 181.81 L579.15 182.22 L580.59 182.64 L582.04 183.07 L583.49 183.49 L584.94 183.93 L586.38 184.36 L587.83 184.81 L589.28 185.25 L590.73 185.70 L592.18 186.15 L593.62 186.61 L595.07 187.08 L596.52 187.54 L597.97 188.01 L599.41 188.49 L600.86 188.97 L602.31 189.45 L603.76 189.94 L605.20 190.43 L606.65 190.92 L608.10 191.42 L609.55 191.92 L611.00 192.43 L612.44 192.94 L613.89 193.45 L615.34 193.97 L616.79 194.49 L618.23 195.01 L619.68 195.53 L621.13 196.06 L622.58 196.59 L624.02 197.13 L625.47 197.66 L626.92 198.20 L628.37 198.74 L629.81 199.29 L631.26 199.83 L632.71 200.38 L634.16 200.93 L635.61 201.48 L637.05 202.03 L638.50 202.58 L639.95 203.14 L641.40 203.69 L642.84 204.25 L644.29 204.80 L645.74 205.36 L647.19 205.92 L648.63 206.47 L650.08 207.03 L651.53 207.59 L652.98 208.14 L654.43 208.70 L655.87 209.25 L657.32 209.80 L658.77 210.36 L660.22 210.91 L661.66 211.46 L663.11 212.00 L664.56 212.55 L666.01 213.09 L667.45 213.63 L668.90 214.17 L670.35 214.71 L671.80 215.24 L673.25 215.77 L674.69 216.30 L676.14 216.83 L677.59 217.35 L679.04 217.87 L680.48 218.38 L681.93 218.90 L683.38 219.41 L684.83 219.92 L686.27 220.42 L687.72 220.92 L689.17 221.42 L690.62 221.91 L692.06 222.41 L693.51 222.89 L694.96 223.38 L696.41 223.86 L697.86 224.34 L699.30 224.82 L700.75 225.29 L702.20 225.77 L703.65 226.24 L705.09 226.70 L706.54 227.17 L707.99 227.63 L709.44 228.10 L710.88 228.56 L712.33 229.02 L713.78 229.47 L715.23 229.93 L716.68 230.39 L718.12 230.84 L719.57 231.30 L721.02 231.75 L722.47 232.21 L723.91 232.66 L725.36 233.12 L726.81 233.58 L728.26 234.03 L729.70 234.49 L731.15 234.95 L732.60 235.41 L734.05 235.88 L735.50 236.34 L736.94 236.81 L738.39 237.28 L739.84 237.75 L741.29 238.23 L742.73 238.71 L744.18 239.19 L745.63 239.67 L747.08 240.16 L748.52 240.65 L749.97 241.15 L751.42 241.64 L752.87 242.15 L754.31 242.65 L755.76 243.17 L757.21 243.68 L758.66 244.20 L760.11 244.73 L761.55 245.26 L763.00 245.79 L764.45 246.33 L765.90 246.87 L767.34 247.42 L768.79 247.97 L770.24 248.53 L771.69 249.10 L773.13 249.66 L774.53 250.22 L775.93 250.77 L777.32 251.34 L778.72 251.90 L780.11 252.47 L781.51 253.05 L782.91 253.63 L784.30 254.21 L785.70 254.80 L787.09 255.40 L788.49 256.00 L789.89 256.60 L791.28 257.20 L792.68 257.82 L794.07 258.43 L795.47 259.05 L796.87 259.67 L798.26 260.30 L799.66 260.93 L801.05 261.56 L802.45 262.20 L803.85 262.84 L805.24 263.48 L806.64 264.13 L808.03 264.78 L809.43 265.43 L810.83 266.09 L812.22 266.75 L813.62 267.41 L815.01 268.07 L816.41 268.73 L817.81 269.40 L819.20 270.07 L820.60 270.74 L821.99 271.41 L823.39 272.08 L824.79 272.76 L826.18 273.43 L827.58 274.11 L828.97 274.79 L830.37 275.46 L831.77 276.14 L833.16 276.82 L834.56 277.49 L835.95 278.17 L837.35 278.85 L838.75 279.53 L840.14 280.20 L841.54 280.88 L842.93 281.55 L844.33 282.23 L845.72 282.90 L847.12 283.57 L848.52 284.24 L849.91 284.91 L851.31 285.58 L852.70 286.25 L854.10 286.92 L855.50 287.58 L856.89 288.25 L858.29 288.91 L859.68 289.57 L861.08 290.23 L862.48 290.88 L863.87 291.54 L865.27 292.20 L866.66 292.85 L868.06 293.50 L869.46 294.16 L870.85 294.81 L872.25 295.46 L873.64 296.11 L875.04 296.76 L876.44 297.40 L877.83 298.05 L879.23 298.70 L880.62 299.35 L882.02 300.00 L883.42 300.64 L884.81 301.29 L886.21 301.94 L887.60 302.60 L889.00 303.25 L890.40 303.90 L891.79 304.56 L893.19 305.21 L894.58 305.87 L895.98 306.54 L897.38 307.20 L898.77 307.87 L900.17 308.54 L901.56 309.21 L902.96 309.89 L904.36 310.57 L905.75 311.25 L907.15 311.94 L908.49 312.61 L909.84 313.28 L911.18 313.96 L912.52 314.64 L913.87 315.32 L915.21 316.01 L916.56 316.71 L917.90 317.41 L919.25 318.12 L920.59 318.83 L921.93 319.55 L923.28 320.27 L924.62 321.00 L925.97 321.73 L927.31 322.48 L928.66 323.22 L930.00 323.98 L931.34 324.74 L932.69 325.51 L934.03 326.28 L935.38 327.06 L936.72 327.85 L938.01 328.62 L939.31 329.39 L940.60 330.17 L941.89 330.95 L943.18 331.74 L944.48 332.54 L945.77 333.35 L947.06 334.16 L948.35 334.98 L949.65 335.80 L950.94 336.63 L952.23 337.47 L953.52 338.32 L954.82 339.17 L956.11 340.03 L957.40 340.90 L958.70 341.78 L959.94 342.62 L961.18 343.48 L962.42 344.34 L963.66 345.20 L964.90 346.08 L966.14 346.96 L967.38 347.84 L968.62 348.73 L969.86 349.63 L971.10 350.54 L972.34 351.45 L973.59 352.37 L974.83 353.30 L976.07 354.23 L977.31 355.17 L978.55 356.12 L979.79 357.07 L980.98 358.00 L982.17 358.92 L983.36 359.86 L984.55 360.80 L985.74 361.74 L986.92 362.70 L988.11 363.66 L989.30 364.62 L990.49 365.59 L991.68 366.57 L992.87 367.56 L994.06 368.55 L995.25 369.56 L996.44 370.56 L997.63 371.58 L998.82 372.60 L999.95 373.58 L1001.09 374.58 L1002.23 375.57 L1003.37 376.58 L1004.50 377.59 L1005.64 378.61 L1006.78 379.64 L1007.92 380.68 L1009.05 381.72 L1010.19 382.77 L1011.33 383.83 L1012.47 384.89 L1013.60 385.97 L1014.74 387.05 L1015.83 388.09 L1016.91 389.14 L1018.00 390.20 L1019.08 391.27 L1020.17 392.34 L1021.26 393.42 L1022.34 394.51 L1023.43 395.61 L1024.51 396.72 L1025.60 397.84 L1026.68 398.97 L1027.77 400.11 L1028.80 401.20 L1029.84 402.30 L1030.87 403.41 L1031.91 404.53 L1032.94 405.66 L1033.97 406.80 L1035.01 407.95 L1036.04 409.11 L1037.08 410.28 L1038.11 411.46 L1039.14 412.65 L1040.13 413.79 L1041.11 414.94 L1042.09 416.11 L1043.07 417.28 L1044.06 418.46 L1045.04 419.65 L1046.02 420.86 L1047.00 422.07 L1047.99 423.30 L1048.97 424.54 L1049.90 425.72 L1050.83 426.91 L1051.76 428.12 L1052.69 429.33 L1053.62 430.56 L1054.55 431.80 L1055.48 433.04 L1056.41 434.31 L1057.34 435.58 L1058.27 436.86 L1059.15 438.09 L1060.03 439.32 L1060.91 440.57 L1061.79 441.82 L1062.67 443.09 L1063.55 444.37 L1064.43 445.66 L1065.31 446.96 L1066.18 448.28 L1067.06 449.60 L1067.89 450.86 L1068.72 452.14 L1069.55 453.42 L1070.37 454.71 L1071.20 456.01 L1072.03 457.33 L1072.85 458.66 L1073.68 460.00 L1074.51 461.35 L1075.34 462.71 L1076.11 464.00 L1076.89 465.30 L1077.66 466.61 L1078.44 467.93 L1079.21 469.26 L1079.99 470.60 L1080.76 471.95 L1081.54 473.32 L1082.32 474.70 L1083.09 476.08 L1083.87 477.48 L1084.59 478.80 L1085.31 480.13 L1086.04 481.46 L1086.76 482.81 L1087.49 484.17 L1088.21 485.54 L1088.93 486.92 L1089.66 488.31 L1090.38 489.71 L1091.11 491.13 L1091.83 492.55 L1092.55 493.99 L1093.23 495.33 L1093.90 496.68 L1094.57 498.04 L1095.24 499.41 L1095.91 500.80 L1096.59 502.19 L1097.26 503.59 L1097.93 505.00 L1098.60 506.43 L1099.27 507.86 L1099.95 509.30 L1100.62 510.76 L1101.29 512.22 L1101.96 513.69 L1102.58 515.06 L1103.20 516.44 L1103.82 517.83 L1104.44 519.23 L1105.07 520.64 L1105.69 522.06 L1106.31 523.48 L1106.93 524.92 L1107.55 526.36 L1108.17 527.81 L1108.79 529.28 L1109.41 530.75 L1110.03 532.23 L1110.65 533.73 L1111.27 535.23 L1111.89 536.74 L1112.46 538.13 L1113.03 539.53 L1113.60 540.94 L1114.16 542.36 L1114.73 543.79 L1115.30 545.22 L1115.87 546.67 L1116.44 548.12 L1117.01 549.58 L1117.58 551.04 L1118.15 552.52 L1118.71 554.00 L1119.28 555.50 L1119.85 557.00 L1120.42 558.51 L1120.99 560.02 L1121.56 561.55 L1122.13 563.08 L1122.70 564.62 L1123.26 566.17 L1123.78 567.58 L1124.30 569.00 L1124.82 570.43 L1125.33 571.87 L1125.85 573.31 L1126.37 574.75 L1126.88 576.21 L1127.40 577.67 L1127.92 579.13 L1128.43 580.60 L1128.95 582.08 L1129.47 583.56 L1129.99 585.05 L1130.50 586.55 L1131.02 588.05 L1131.54 589.55 L1132.05 591.06 L1132.57 592.58 L1133.09 594.10 L1133.60 595.62 L1134.12 597.15 L1134.64 598.69 L1135.16 600.23 L1135.67 601.77 L1136.19 603.32 L1136.71 604.87 L1137.22 606.42 L1137.74 607.97 L1138.26 609.53 L1138.78 611.09 L1139.29 612.66 L1139.81 614.22 L1140.33 615.78 L1140.84 617.35 L1141.36 618.92 L1141.88 620.48 L1142.39 622.05 L1142.91 623.62 L1143.43 625.18 L1143.95 626.74 L1144.46 628.30 L1144.98 629.86 L1145.50 631.41 L1146.01 632.96 L1146.53 634.51 L1147.05 636.04 L1147.56 637.58 L1148.08 639.10 L1148.60 640.62 L1149.12 642.13 L1149.63 643.63 L1150.15 645.12 L1150.67 646.60 L1151.18 648.07 L1151.70 649.52 L1152.22 650.97 L1152.73 652.39 L1153.25 653.81 L1153.82 655.34 L1154.39 656.86 L1154.96 658.35 L1155.53 659.82 L1156.10 661.27 L1156.66 662.69 L1157.23 664.09 L1157.85 665.58 L1158.47 667.03 L1159.09 668.46 L1159.71 669.84 L1160.39 671.30 L1161.06 672.71 L1161.73 674.08 L1162.46 675.50 L1163.18 676.86 L1163.95 678.26 L1164.73 679.59 L1165.56 680.94 L1166.38 682.22 L1167.26 683.49 L1168.19 684.74 L1169.18 685.97 L1170.21 687.16 L1171.30 688.29 L1172.43 689.36 L1173.62 690.36 L1174.86 691.28 L1176.16 692.12 L1177.50 692.87 L1178.90 693.53 L1180.29 694.09 L1181.74 694.58 L1183.19 694.99 L1184.69 695.33 L1186.19 695.61 L1187.69 695.84 L1189.19 696.03 L1190.68 696.17 L1192.18 696.29 L1193.68 696.39 L1195.18 696.46 L1196.68 696.52 L1198.18 696.56 L1199.73 696.60 L1201.28 696.63 L1202.83 696.65 L1204.39 696.67 L1205.94 696.68 L1207.49 696.69 L1209.04 696.70 L1210.59 696.70 L1212.14 696.71 L1213.69 696.71 L1215.24 696.71 L1216.79 696.71 L1218.35 696.71 L1219.90 696.71 L1220.00 696.71" stroke="#0000ff" stroke-width="4.5" stroke-dasharray="4.3 4.7" fill="none" stroke-linejoin="round"/>
<path d="M186.00 100.47 L187.50 100.54 L189.00 100.61 L190.51 100.68 L192.01 100.75 L193.51 100.82 L195.01 100.90 L196.52 100.97 L198.02 101.05 L199.52 101.12 L201.02 101.20 L202.53 101.28 L204.03 101.36 L205.53 101.44 L207.03 101.53 L208.53 101.61 L210.04 101.70 L211.54 101.79 L213.04 101.87 L214.54 101.96 L216.05 102.06 L217.55 102.15 L219.05 102.24 L220.55 102.34 L222.05 102.44 L223.56 102.54 L225.06 102.64 L226.56 102.74 L228.06 102.84 L229.57 102.95 L231.07 103.06 L232.57 103.17 L234.07 103.28 L235.58 103.39 L237.08 103.50 L238.58 103.62 L240.08 103.74 L241.58 103.86 L243.09 103.98 L244.59 104.10 L246.09 104.23 L247.59 104.36 L249.10 104.49 L250.60 104.62 L252.10 104.75 L253.60 104.89 L255.10 105.02 L256.61 105.16 L258.11 105.31 L259.61 105.45 L261.11 105.60 L262.62 105.74 L264.12 105.89 L265.62 106.05 L267.12 106.20 L268.63 106.36 L270.13 106.52" stroke="#ff00ff" stroke-width="4.5" stroke-dasharray="2.2 2.3" fill="none" stroke-linejoin="round"/>
<path d="M270.13 106.52 L271.63 106.68 L273.13 106.85 L274.63 107.02 L276.14 107.19 L277.64 107.36 L279.14 107.53 L280.64 107.71 L282.15 107.89 L283.65 108.07 L285.15 108.26 L286.65 108.45 L288.15 108.64 L289.66 108.83 L291.16 109.03 L292.66 109.23 L294.16 109.43 L295.67 109.64 L297.17 109.85 L298.67 110.06 L300.17 110.27 L301.68 110.49 L303.18 110.71 L304.68 110.93 L306.18 111.16 L307.68 111.39 L309.19 111.62 L310.69 111.86 L312.19 112.10 L313.69 112.34 L315.20 112.59 L316.70 112.84 L318.20 113.09 L319.70 113.35 L321.20 113.61 L322.71 113.87 L324.21 114.14 L325.71 114.41 L327.21 114.68 L328.72 114.96 L330.22 115.24 L331.72 115.53 L333.22 115.82 L334.73 116.11 L336.23 116.40 L337.73 116.70 L339.23 117.01 L340.73 117.31 L342.24 117.62 L343.74 117.94 L345.24 118.25 L346.74 118.58 L348.25 118.90 L349.75 119.23 L351.25 119.56 L352.75 119.90 L354.25 120.24 L355.76 120.59 L357.26 120.93 L358.76 121.29 L360.26 121.64 L361.77 122.00 L363.27 122.36 L364.77 122.73 L366.27 123.10 L367.78 123.48 L369.28 123.85 L370.78 124.24 L372.28 124.62 L373.78 125.01 L375.29 125.40 L376.79 125.80 L378.24 126.18 L379.69 126.57 L381.14 126.96 L382.59 127.36 L384.04 127.76 L385.49 128.16 L386.94 128.56 L388.39 128.97 L389.84 129.38 L391.29 129.79 L392.74 130.21 L394.19 130.63 L395.65 131.05 L397.10 131.47 L398.55 131.89 L400.00 132.32 L401.45 132.75 L402.90 133.18 L404.35 133.62 L405.80 134.05 L407.25 134.49 L408.70 134.93 L410.15 135.37 L411.60 135.82 L413.05 136.26 L414.50 136.71 L415.95 137.15 L417.40 137.60 L418.85 138.05 L420.30 138.50 L421.75 138.95 L423.20 139.40 L424.65 139.85 L426.11 140.31 L427.56 140.76 L429.01 141.21 L430.46 141.66 L431.91 142.12 L433.36 142.57 L434.81 143.02 L436.26 143.47 L437.71 143.92 L439.16 144.37" stroke="#ff00ff" stroke-width="4.5" fill="none" stroke-linejoin="round"/>
<path d="M439.16 144.37 L440.61 144.82 L442.06 145.27 L443.51 145.72 L444.96 146.16 L446.41 146.61 L447.86 147.05 L449.31 147.49 L450.76 147.94 L452.21 148.37 L453.66 148.81 L455.11 149.25 L456.56 149.68 L458.02 150.11 L459.47 150.54 L460.92 150.97 L462.37 151.39 L463.82 151.82 L465.27 152.24 L466.72 152.66 L468.17 153.07 L469.62 153.49 L471.07 153.90 L472.52 154.31 L473.97 154.72 L475.42 155.12 L476.87 155.53 L478.32 155.93 L479.77 156.33 L481.22 156.73 L482.67 157.12 L484.12 157.52 L485.57 157.91 L487.02 158.30 L488.48 158.69 L489.93 159.07 L491.38 159.46 L492.83 159.84 L494.28 160.23 L495.78 160.62 L497.28 161.02 L498.78 161.41 L500.29 161.80 L501.79 162.20 L503.29 162.59 L504.79 162.98 L506.30 163.37 L507.80 163.76 L509.30 164.15 L510.80 164.54 L512.30 164.93 L513.81 165.32 L515.31 165.71 L516.81 166.10 L518.31 166.49 L519.82 166.89 L521.32 167.28 L522.82 167.68 L524.32 168.07 L525.77 168.46 L527.22 168.84 L528.67 169.22 L530.12 169.61 L531.58 170.00 L533.03 170.39 L534.48 170.78 L535.93 171.17 L537.38 171.57 L538.83 171.96 L540.28 172.36 L541.73 172.76 L543.18 173.15 L544.63 173.56 L546.08 173.96 L547.53 174.36 L548.98 174.77 L550.43 175.18 L551.88 175.59 L553.33 176.00 L554.78 176.41 L556.23 176.82 L557.68 177.24 L559.13 177.65 L560.58 178.07 L562.04 178.49 L563.49 178.91 L564.94 179.33 L566.39 179.75 L567.84 180.17 L569.29 180.60 L570.74 181.02 L572.19 181.45 L573.64 181.87 L575.09 182.30 L576.54 182.73 L577.99 183.15 L579.44 183.58 L580.89 184.01 L582.34 184.44 L583.79 184.87 L585.24 185.30 L586.69 185.73 L588.14 186.16 L589.59 186.59 L591.04 187.02 L592.49 187.45 L593.95 187.88 L595.40 188.31 L596.85 188.74 L598.30 189.17 L599.75 189.60 L601.20 190.03 L602.65 190.46 L604.10 190.89 L605.55 191.31 L607.00 191.74 L608.45 192.17 L609.90 192.60 L611.35 193.02 L612.80 193.45 L614.25 193.88 L615.70 194.30 L617.15 194.73 L618.60 195.16 L620.05 195.58 L621.50 196.01 L622.95 196.44 L624.41 196.86 L625.86 197.29 L627.31 197.72 L628.76 198.14 L630.21 198.57 L631.66 199.00 L633.11 199.43 L634.56 199.86 L636.01 200.29 L637.46 200.72 L638.91 201.15 L640.36 201.59 L641.81 202.02 L643.26 202.46 L644.71 202.89 L646.16 203.33 L647.61 203.77 L649.06 204.21 L650.51 204.66 L651.96 205.10 L653.41 205.55 L654.87 206.00 L656.32 206.45 L657.77 206.91 L659.22 207.36 L660.67 207.82 L662.12 208.28 L663.57 208.75 L665.02 209.22 L666.47 209.69 L667.92 210.16 L669.37 210.64 L670.82 211.11 L672.27 211.60 L673.72 212.08 L675.17 212.57 L676.62 213.06 L678.07 213.56 L679.52 214.06 L680.97 214.56 L682.42 215.06 L683.87 215.57 L685.33 216.08 L686.78 216.59 L688.23 217.11 L689.68 217.63 L691.13 218.16 L692.58 218.68 L694.03 219.21 L695.48 219.75 L696.93 220.28 L698.38 220.82 L699.83 221.36 L701.28 221.91 L702.73 222.45 L704.18 223.00 L705.63 223.55 L707.08 224.11 L708.53 224.66 L709.98 225.22 L711.43 225.78 L712.88 226.34 L714.28 226.89 L715.68 227.43 L717.08 227.97 L718.48 228.52 L719.88 229.07 L721.28 229.61 L722.67 230.16 L724.07 230.71 L725.47 231.26 L726.87 231.80 L728.27 232.35 L729.67 232.90 L731.07 233.45 L732.47 233.99 L733.86 234.54 L735.26 235.08 L736.66 235.62 L738.11 236.18 L739.56 236.74 L741.01 237.30 L742.46 237.86 L743.91 238.41 L745.36 238.96 L746.81 239.51 L748.27 240.05 L749.72 240.59 L751.17 241.13 L752.62 241.67 L754.07 242.20 L755.52 242.73 L756.97 243.25 L758.42 243.78 L759.87 244.29 L761.32 244.81 L762.77 245.32 L764.22 245.82 L765.67 246.33 L767.12 246.82 L768.57 247.32 L770.02 247.81 L771.47 248.30 L772.92 248.78 L774.37 249.26 L775.82 249.73 L777.27 250.20 L778.73 250.67 L780.18 251.13 L781.63 251.59 L783.08 252.05 L784.53 252.50 L785.98 252.96 L787.43 253.40 L788.88 253.85 L790.33 254.29 L791.78 254.73 L793.23 255.17 L794.68 255.61 L796.13 256.04 L797.58 256.47 L799.03 256.90 L800.48 257.33 L801.93 257.76 L803.38 258.19 L804.83 258.62 L806.28 259.05 L807.73 259.47 L809.19 259.90 L810.64 260.33 L812.09 260.76 L813.54 261.18 L814.99 261.61 L816.44 262.05 L817.89 262.48 L819.34 262.91 L820.79 263.35 L822.24 263.78 L823.69 264.22 L825.14 264.66 L826.59 265.10 L828.04 265.55 L829.49 266.00 L830.94 266.45 L832.39 266.90 L833.84 267.36 L835.29 267.81 L836.74 268.28 L838.19 268.74 L839.65 269.21 L841.10 269.68 L842.55 270.15 L844.00 270.63 L845.45 271.11 L846.90 271.59 L848.35 272.08 L849.80 272.57 L851.25 273.06 L852.70 273.56 L854.15 274.06 L855.60 274.56 L857.05 275.07 L858.50 275.58 L859.95 276.09 L861.40 276.61 L862.85 277.12 L864.30 277.64 L865.75 278.17 L867.20 278.69 L868.65 279.22 L870.11 279.75 L871.56 280.28 L873.01 280.82 L874.46 281.35 L875.91 281.89 L877.36 282.43 L878.81 282.97 L880.26 283.51 L881.71 284.06 L883.16 284.60 L884.61 285.15 L886.06 285.69 L887.51 286.24 L888.96 286.78 L890.41 287.33 L891.86 287.87 L893.31 288.42 L894.76 288.96 L896.21 289.50 L897.66 290.05 L899.11 290.59 L900.56 291.13 L902.02 291.66 L903.47 292.20 L904.92 292.73 L906.37 293.26 L907.82 293.79 L909.27 294.31 L910.72 294.84 L912.17 295.36 L913.62 295.87 L915.07 296.38 L916.52 296.89 L917.97 297.40 L919.42 297.90 L920.87 298.39 L922.32 298.89 L923.77 299.37 L925.22 299.86 L926.67 300.34 L928.12 300.81 L929.57 301.28 L931.02 301.74 L932.48 302.20 L933.93 302.66 L935.38 303.11 L936.83 303.55 L938.28 303.99 L939.73 304.43 L941.18 304.86 L942.63 305.28 L944.08 305.70 L945.53 306.12 L946.98 306.53 L948.43 306.93 L949.88 307.33 L951.33 307.73 L952.78 308.12 L954.23 308.51 L955.68 308.89 L957.19 309.29 L958.69 309.67 L960.19 310.06 L961.69 310.44 L963.19 310.81 L964.70 311.19 L966.20 311.56 L967.70 311.92 L969.20 312.28 L970.71 312.64 L972.21 313.00 L973.71 313.35 L975.21 313.71 L976.71 314.05 L978.22 314.40 L979.72 314.74 L981.22 315.09 L982.72 315.43 L984.23 315.76 L985.73 316.10 L987.23 316.44 L988.73 316.77 L990.24 317.10 L991.74 317.43 L993.24 317.76 L994.74 318.09 L996.24 318.42 L997.75 318.74 L999.25 319.06 L1000.75 319.39 L1002.25 319.71 L1003.76 320.03 L1005.26 320.35 L1006.76 320.67 L1008.26 320.98 L1009.76 321.30 L1011.27 321.61 L1012.77 321.93 L1014.27 322.24 L1015.77 322.55 L1017.28 322.85 L1018.78 323.16 L1020.28 323.46 L1021.78 323.76 L1023.29 324.06 L1024.79 324.36 L1026.29 324.66 L1027.79 324.95 L1029.29 325.24 L1030.80 325.52 L1032.30 325.81 L1033.80 326.09 L1035.30 326.37 L1036.81 326.64 L1038.31 326.91 L1039.81 327.18 L1041.31 327.44 L1042.81 327.70 L1044.32 327.96 L1045.82 328.21 L1047.32 328.45 L1048.82 328.70 L1050.33 328.93 L1051.83 329.17 L1053.33 329.40 L1054.83 329.62 L1056.34 329.84 L1057.84 330.05 L1059.34 330.26 L1060.84 330.47 L1062.34 330.66 L1063.85 330.86 L1065.35 331.05 L1066.85 331.23 L1068.35 331.41 L1069.86 331.58 L1071.36 331.74 L1072.86 331.91 L1074.36 332.06 L1075.86 332.21 L1077.37 332.36 L1078.87 332.50 L1080.37 332.63 L1081.87 332.76 L1083.38 332.89 L1084.88 333.01 L1086.38 333.12 L1087.88 333.23 L1089.39 333.33 L1090.89 333.43 L1092.39 333.53 L1093.89 333.62 L1095.39 333.71 L1096.90 333.79 L1098.40 333.87 L1099.90 333.94 L1101.40 334.01 L1102.91 334.08 L1104.41 334.14 L1105.91 334.20 L1107.41 334.25 L1108.91 334.30 L1110.42 334.35 L1111.92 334.40 L1113.42 334.44 L1114.92 334.48 L1116.43 334.52 L1117.93 334.55 L1119.43 334.58 L1120.93 334.61 L1122.44 334.64 L1123.94 334.67 L1125.44 334.69 L1126.94 334.71 L1128.44 334.73 L1129.95 334.75 L1131.45 334.77 L1132.95 334.78 L1134.45 334.80 L1135.96 334.81 L1137.46 334.82 L1138.96 334.83 L1140.46 334.84 L1141.96 334.85 L1143.47 334.86 L1144.97 334.86 L1146.47 334.87 L1147.97 334.88 L1149.48 334.88 L1150.98 334.89 L1152.48 334.89 L1153.98 334.89 L1155.49 334.90 L1156.99 334.90 L1158.49 334.90 L1159.99 334.91 L1161.49 334.91 L1163.00 334.91 L1164.50 334.91 L1166.00 334.91 L1167.50 334.91 L1169.01 334.91 L1170.51 334.92 L1172.01 334.92 L1173.51 334.92 L1175.02 334.92 L1176.52 334.92 L1178.02 334.92 L1179.52 334.92 L1181.02 334.92 L1182.53 334.92 L1184.03 334.92 L1185.53 334.92 L1187.03 334.92 L1188.54 334.92 L1190.04 334.92 L1191.54 334.92 L1193.04 334.92 L1194.54 334.92 L1196.05 334.92 L1197.55 334.92 L1199.05 334.92 L1200.55 334.92 L1202.06 334.92 L1203.56 334.92 L1205.06 334.92 L1206.56 334.92 L1208.07 334.92 L1209.57 334.92 L1211.07 334.92 L1212.57 334.92 L1214.07 334.92 L1215.58 334.92 L1217.08 334.92 L1218.58 334.92 L1220.08 334.92 L1221.59 334.92 L1222.00 334.92" stroke="#ff00ff" stroke-width="4.5" stroke-dasharray="2.2 2.3" fill="none" stroke-linejoin="round"/>
<path d="M186.00 99.76 L187.50 99.82 L189.00 99.88 L190.51 99.94 L192.01 100.00 L193.51 100.07 L195.01 100.13 L196.52 100.20 L198.02 100.26 L199.52 100.33 L201.02 100.40 L202.53 100.47 L204.03 100.54 L205.53 100.61 L207.03 100.69 L208.53 100.76 L210.04 100.84 L211.54 100.92 L213.04 100.99 L214.54 101.07 L216.05 101.15 L217.55 101.24 L219.05 101.32 L220.55 101.41 L222.05 101.49 L223.56 101.58 L225.06 101.67 L226.56 101.76 L228.06 101.85 L229.57 101.94 L231.07 102.04 L232.57 102.13 L234.07 102.23 L235.58 102.33 L237.08 102.43 L238.58 102.54 L240.08 102.64 L241.58 102.74 L243.09 102.85 L244.59 102.96 L246.09 103.07 L247.59 103.18 L249.10 103.30 L250.60 103.41 L252.10 103.53 L253.60 103.65 L255.10 103.77 L256.61 103.89 L258.11 104.02 L259.61 104.15 L261.11 104.28 L262.62 104.41 L264.12 104.54 L265.62 104.67 L267.12 104.81 L268.63 104.95 L270.13 105.09 L271.63 105.23 L273.13 105.38 L274.63 105.53 L276.14 105.67 L277.64 105.83 L279.14 105.98 L280.64 106.14 L282.15 106.30 L283.65 106.46 L285.15 106.62 L286.65 106.78 L288.15 106.95 L289.66 107.12 L291.16 107.30 L292.66 107.47 L294.16 107.65 L295.67 107.83 L297.17 108.01 L298.67 108.20 L300.17 108.39 L301.68 108.58 L303.18 108.77 L304.68 108.97 L306.18 109.17 L307.68 109.37 L309.19 109.57 L310.69 109.78 L312.19 109.99 L313.69 110.20 L315.20 110.42 L316.70 110.64 L318.20 110.86 L319.70 111.08 L321.20 111.31 L322.71 111.54 L324.21 111.77 L325.71 112.01 L327.21 112.25 L328.72 112.49 L330.22 112.74 L331.72 112.99 L333.22 113.24 L334.73 113.49 L336.23 113.75 L337.73 114.01 L339.23 114.28 L340.73 114.54 L342.24 114.81 L343.74 115.09 L345.24 115.36 L346.74 115.64 L348.25 115.93 L349.75 116.21 L351.25 116.50 L352.75 116.80 L354.25 117.09 L355.76 117.39 L357.26 117.69 L358.76 118.00 L360.26 118.31 L361.77 118.62 L363.27 118.94 L364.77 119.25 L366.27 119.58 L367.78 119.90 L369.28 120.23 L370.78 120.56 L372.28 120.89 L373.78 121.23 L375.29 121.57 L376.79 121.91 L378.29 122.25 L379.79 122.60 L381.30 122.95 L382.80 123.31 L384.30 123.66 L385.80 124.02 L387.30 124.38 L388.81 124.74 L390.31 125.11 L391.81 125.48 L393.31 125.85 L394.82 126.22 L396.32 126.59 L397.82 126.97 L399.32 127.35 L400.83 127.73 L402.33 128.11 L403.83 128.49 L405.33 128.88 L406.83 129.27 L408.34 129.65 L409.84 130.04 L411.34 130.43 L412.84 130.82 L414.35 131.21 L415.85 131.61 L417.35 132.00 L418.85 132.39 L420.35 132.78 L421.86 133.18 L423.36 133.57 L424.86 133.96 L426.36 134.36 L427.87 134.75 L429.37 135.14 L430.87 135.53 L432.37 135.92 L433.88 136.31 L435.38 136.70 L436.88 137.09 L438.38 137.47 L439.88 137.85 L441.39 138.24 L442.89 138.62 L444.39 138.99 L445.89 139.37 L447.40 139.74 L448.90 140.11 L450.40 140.48 L451.90 140.84 L453.40 141.21 L454.91 141.56 L456.41 141.92 L457.91 142.27 L459.41 142.62 L460.92 142.97 L462.42 143.31 L463.92 143.65 L465.42 143.98 L466.93 144.31 L468.43 144.64 L469.93 144.96 L471.43 145.28 L472.93 145.59 L474.44 145.90 L475.94 146.21 L477.44 146.51 L478.94 146.81 L480.45 147.10 L481.95 147.39 L483.45 147.67 L484.95 147.95 L486.46 148.23 L487.96 148.50 L489.46 148.77 L490.96 149.03 L492.46 149.29 L493.97 149.54 L495.47 149.79 L496.97 150.04 L498.47 150.28 L499.98 150.52 L501.48 150.75 L502.98 150.98 L504.48 151.21 L505.98 151.43 L507.49 151.65 L508.99 151.87 L510.49 152.08 L511.99 152.29 L513.50 152.50 L515.00 152.70 L516.50 152.90 L518.00 153.09 L519.51 153.28 L521.01 153.47 L522.51 153.66 L524.01 153.84 L525.51 154.02 L527.02 154.20 L528.52 154.38 L530.02 154.55 L531.52 154.72 L533.03 154.89 L534.53 155.06 L536.03 155.22 L537.53 155.38 L539.03 155.54 L540.54 155.69 L542.04 155.85 L543.54 156.00 L545.04 156.15 L546.55 156.30 L548.05 156.45 L549.55 156.59 L551.05 156.73 L552.56 156.87 L554.06 157.01 L555.56 157.15 L557.06 157.29 L558.56 157.42 L560.07 157.55 L561.57 157.68 L563.07 157.81 L564.57 157.94 L566.08 158.06 L567.58 158.19 L569.08 158.31 L570.58 158.43 L572.08 158.55 L573.59 158.67 L575.09 158.79 L576.59 158.90 L578.09 159.02 L579.60 159.13 L581.10 159.24 L582.60 159.35 L584.10 159.46 L585.61 159.56 L587.11 159.67 L588.61 159.77 L590.11 159.88 L591.61 159.98 L593.12 160.08 L594.62 160.18 L596.12 160.28 L597.62 160.37 L599.13 160.47 L600.63 160.57 L602.13 160.66 L603.63 160.75 L605.13 160.84 L606.64 160.93 L608.14 161.02 L609.64 161.11 L611.14 161.20 L612.65 161.28 L614.15 161.37 L615.65 161.45 L617.15 161.53 L618.66 161.61 L620.16 161.69 L621.66 161.77 L623.16 161.85 L624.66 161.92 L626.17 162.00 L627.67 162.07 L629.17 162.15 L630.67 162.22 L632.18 162.29 L633.68 162.36 L635.18 162.43 L636.68 162.49 L638.18 162.56 L639.69 162.62 L641.19 162.69 L642.69 162.75 L644.19 162.81 L645.70 162.87 L647.20 162.93 L648.70 162.98 L650.20 163.04 L651.71 163.09 L653.21 163.14 L654.71 163.20 L656.21 163.25 L657.71 163.30 L659.22 163.34 L660.72 163.39 L662.22 163.44 L663.72 163.48 L665.23 163.52 L666.73 163.56 L668.23 163.60 L669.73 163.64 L671.23 163.68 L672.74 163.72 L674.24 163.75 L675.74 163.78 L677.24 163.82 L678.75 163.85 L680.25 163.88 L681.75 163.91 L683.25 163.94 L684.76 163.96 L686.26 163.99 L687.76 164.01 L689.26 164.04 L690.76 164.06 L692.27 164.08 L693.77 164.10 L695.27 164.12 L696.77 164.14 L698.28 164.16 L699.78 164.17 L701.28 164.19 L702.78 164.20 L704.28 164.22 L705.79 164.23 L707.29 164.24 L708.79 164.25 L710.29 164.27 L711.80 164.28 L713.30 164.29 L714.80 164.29 L716.30 164.30 L717.81 164.31 L719.31 164.32 L720.81 164.33 L722.31 164.33 L723.81 164.34 L725.32 164.34 L726.82 164.35 L728.32 164.35 L729.82 164.36 L731.33 164.36 L732.83 164.37 L734.33 164.37 L735.83 164.37 L737.33 164.38 L738.84 164.38 L740.34 164.38 L741.84 164.38 L743.34 164.38 L744.85 164.39 L746.35 164.39 L747.85 164.39 L749.35 164.39 L750.86 164.39 L752.36 164.39 L753.86 164.39 L755.36 164.39 L756.86 164.40 L758.37 164.40 L759.87 164.40 L761.37 164.40 L762.87 164.40 L764.38 164.40 L765.88 164.40 L767.38 164.40 L768.88 164.40 L770.39 164.40 L771.89 164.40 L773.39 164.40 L774.89 164.40 L776.39 164.40 L777.90 164.40 L779.40 164.40 L780.90 164.40 L782.40 164.40 L783.91 164.40 L785.41 164.40 L786.91 164.40 L788.41 164.40 L789.91 164.40 L791.42 164.40 L792.92 164.40 L794.42 164.40 L795.92 164.40 L797.43 164.40 L798.93 164.40 L800.43 164.40 L801.93 164.40 L803.44 164.40 L804.94 164.40 L806.44 164.40 L807.94 164.40 L809.44 164.40 L810.95 164.40 L812.45 164.40 L813.95 164.40 L815.45 164.40 L816.96 164.40 L818.46 164.40 L819.96 164.40 L821.46 164.40 L822.96 164.40 L824.47 164.40 L825.97 164.40 L827.47 164.40 L828.97 164.40 L830.48 164.40 L831.98 164.40 L833.48 164.40 L834.98 164.40 L836.49 164.40 L837.99 164.40 L839.49 164.40 L840.99 164.40 L842.49 164.40 L844.00 164.40 L845.50 164.40 L847.00 164.40 L848.50 164.40 L850.01 164.40 L851.51 164.40 L853.01 164.40 L854.51 164.40 L856.01 164.40 L857.52 164.40 L859.02 164.40 L860.52 164.40 L862.02 164.40 L863.53 164.40 L865.03 164.40 L866.53 164.40 L868.03 164.40 L869.54 164.40 L871.04 164.40 L872.54 164.40 L874.04 164.40 L875.54 164.40 L877.05 164.40 L878.55 164.40 L880.05 164.40 L881.55 164.40 L883.06 164.40 L884.56 164.40 L886.06 164.40 L887.56 164.40 L889.06 164.40 L890.57 164.40 L892.07 164.40 L893.57 164.40 L895.07 164.40 L896.58 164.40 L898.08 164.40 L899.58 164.40 L901.08 164.40 L902.59 164.40 L904.09 164.40 L905.59 164.40 L907.09 164.40 L908.59 164.40 L910.10 164.40 L911.60 164.40 L913.10 164.40 L914.60 164.40 L916.11 164.40 L917.61 164.40 L919.11 164.40 L920.61 164.40 L922.11 164.40 L923.62 164.40 L925.12 164.40 L926.62 164.40 L928.12 164.40 L929.63 164.40 L931.13 164.40 L932.63 164.40 L934.13 164.40 L935.64 164.40 L937.14 164.40 L938.64 164.40 L940.14 164.40 L941.64 164.40 L943.15 164.40 L944.65 164.40 L946.15 164.40 L947.65 164.40 L949.16 164.40 L950.66 164.40 L952.16 164.40 L953.66 164.40 L955.16 164.40 L956.67 164.40 L958.17 164.40 L959.67 164.40 L961.17 164.40 L962.68 164.40 L964.18 164.40 L965.68 164.40 L967.18 164.40 L968.69 164.40 L970.19 164.40 L971.69 164.40 L973.19 164.40 L974.69 164.40 L976.20 164.40 L977.70 164.40 L979.20 164.40 L980.70 164.40 L982.21 164.40 L983.71 164.40 L985.21 164.40 L986.71 164.40 L988.21 164.40 L989.72 164.40 L991.22 164.40 L992.72 164.40 L994.22 164.40 L995.73 164.40 L997.23 164.40 L998.73 164.40 L1000.23 164.40 L1001.74 164.40 L1003.24 164.40 L1004.74 164.40 L1006.24 164.40 L1007.74 164.40 L1009.25 164.40 L1010.75 164.40 L1012.25 164.40 L1013.75 164.40 L1015.26 164.40 L1016.76 164.40 L1018.26 164.40 L1019.76 164.40 L1021.26 164.40 L1022.77 164.40 L1024.27 164.40 L1025.77 164.40 L1027.27 164.40 L1028.78 164.40 L1030.28 164.40 L1031.78 164.40 L1033.28 164.40 L1034.79 164.40 L1036.29 164.40 L1037.79 164.40 L1039.29 164.40 L1040.79 164.40 L1042.30 164.40 L1043.80 164.40 L1045.30 164.40 L1046.80 164.40 L1048.31 164.40 L1049.81 164.40 L1051.31 164.40 L1052.81 164.40 L1054.32 164.40 L1055.82 164.40 L1057.32 164.40 L1058.82 164.40 L1060.32 164.40 L1061.83 164.40 L1063.33 164.40 L1064.83 164.40 L1066.33 164.40 L1067.84 164.40 L1069.34 164.40 L1070.84 164.40 L1072.34 164.40 L1073.84 164.40 L1075.35 164.40 L1076.85 164.40 L1078.35 164.40 L1079.85 164.40 L1081.36 164.40 L1082.86 164.40 L1084.36 164.40 L1085.86 164.40 L1087.37 164.40 L1088.87 164.40 L1090.37 164.40 L1091.87 164.40 L1093.37 164.40 L1094.88 164.40 L1096.38 164.40 L1097.88 164.40 L1099.38 164.40 L1100.89 164.40 L1102.39 164.40 L1103.89 164.40 L1105.39 164.40 L1106.89 164.40 L1108.40 164.40 L1109.90 164.40 L1111.40 164.40 L1112.90 164.40 L1114.41 164.40 L1115.91 164.40 L1117.41 164.40 L1118.91 164.40 L1120.42 164.40 L1121.92 164.40 L1123.42 164.40 L1124.92 164.40 L1126.42 164.40 L1127.93 164.40 L1129.43 164.40 L1130.93 164.40 L1132.43 164.40 L1133.94 164.40 L1135.44 164.40 L1136.94 164.40 L1138.44 164.40 L1139.94 164.40 L1141.45 164.40 L1142.95 164.40 L1144.45 164.40 L1145.95 164.40 L1147.46 164.40 L1148.96 164.40 L1150.46 164.40 L1151.96 164.40 L1153.47 164.40 L1154.97 164.40 L1156.47 164.40 L1157.97 164.40 L1159.47 164.40 L1160.98 164.40 L1162.48 164.40 L1163.98 164.40 L1165.48 164.40 L1166.99 164.40 L1168.49 164.40 L1169.99 164.40 L1171.49 164.40 L1172.99 164.40 L1174.50 164.40 L1176.00 164.40 L1177.50 164.40 L1179.00 164.40 L1180.51 164.40 L1182.01 164.40 L1183.51 164.40 L1185.01 164.40 L1186.52 164.40 L1188.02 164.40 L1189.52 164.40 L1191.02 164.40 L1192.52 164.40 L1194.03 164.40 L1195.53 164.40 L1197.03 164.40 L1198.53 164.40 L1200.04 164.40 L1201.54 164.40 L1203.04 164.40 L1204.54 164.40 L1206.04 164.40 L1207.55 164.40 L1209.05 164.40 L1210.55 164.40 L1212.05 164.40 L1213.56 164.40 L1215.06 164.40 L1216.56 164.40 L1218.06 164.40 L1219.57 164.40 L1221.07 164.40 L1222.00 164.40" stroke="#00ffff" stroke-width="4.5" stroke-dasharray="11.5 3.2 2.2 2.9" fill="none" stroke-linejoin="round"/>
<path d="M217.00 97.20 L218.50 97.24 L220.00 97.27 L221.50 97.31 L223.00 97.35 L224.50 97.39 L226.00 97.42 L227.50 97.46 L229.00 97.50 L230.50 97.54 L232.00 97.57 L233.50 97.61 L235.00 97.65 L236.50 97.69 L238.00 97.72 L239.50 97.76 L241.00 97.80 L242.51 97.84 L244.03 97.88 L245.54 97.91 L247.05 97.95 L248.56 97.99 L250.08 98.02 L251.59 98.06 L253.10 98.10 L254.62 98.13 L256.13 98.17 L257.64 98.20 L259.15 98.24 L260.67 98.28 L262.18 98.31 L263.69 98.35 L265.21 98.38 L266.72 98.42 L268.23 98.46 L269.74 98.49 L271.26 98.53 L272.77 98.57 L274.28 98.60 L275.79 98.64 L277.31 98.68 L278.82 98.72 L280.33 98.76 L281.85 98.79 L283.36 98.83 L284.87 98.87 L286.38 98.91 L287.90 98.95 L289.41 99.00 L290.92 99.04 L292.44 99.08 L293.95 99.12 L295.46 99.17 L296.97 99.21 L298.49 99.25 L300.00 99.30 L301.53 99.35 L303.07 99.39 L304.60 99.44 L306.13 99.49 L307.67 99.54 L309.20 99.59 L310.73 99.64 L312.27 99.69 L313.80 99.74 L315.33 99.80 L316.87 99.85 L318.40 99.90 L319.93 99.96 L321.47 100.01 L323.00 100.07 L324.53 100.13 L326.07 100.19 L327.60 100.24 L329.13 100.30 L330.67 100.36 L332.20 100.42 L333.73 100.48 L335.27 100.55 L336.80 100.61 L338.33 100.67 L339.87 100.74 L341.40 100.80 L342.93 100.87 L344.47 100.93 L346.00 101.00 L347.55 101.07 L349.09 101.14 L350.64 101.21 L352.18 101.29 L353.73 101.36 L355.27 101.44 L356.82 101.52 L358.37 101.60 L359.91 101.68 L361.46 101.76 L363.00 101.85 L364.55 101.93 L366.10 102.02 L367.64 102.10 L369.19 102.19 L370.73 102.28 L372.28 102.37 L373.83 102.46 L375.37 102.55 L376.92 102.64 L378.46 102.73 L380.01 102.82 L381.55 102.91 L383.10 103.00 L384.68 103.09 L386.26 103.19 L387.85 103.29 L389.43 103.38 L391.01 103.48 L392.59 103.58 L394.17 103.69 L395.75 103.79 L397.34 103.89 L398.92 104.00 L400.50 104.10 L402.07 104.21 L403.63 104.32 L405.20 104.43 L406.77 104.54 L408.33 104.66 L409.90 104.78 L411.47 104.89 L413.03 105.00 L414.60 105.11 L416.17 105.21 L417.73 105.31 L419.30 105.40 L420.87 105.49 L422.45 105.57 L424.02 105.65 L425.59 105.73 L427.16 105.80 L428.74 105.87 L430.31 105.94 L431.88 106.01 L433.45 106.08 L435.03 106.14 L436.60 106.20 L438.18 106.26 L439.75 106.33 L441.33 106.39 L442.90 106.46 L444.48 106.53 L446.05 106.59 L447.62 106.65 L449.20 106.70 L450.77 106.74 L452.35 106.77 L453.93 106.79 L455.50 106.80 L457.07 106.80 L458.65 106.80 L460.22 106.80 L461.79 106.80 L463.36 106.80 L464.94 106.80 L466.51 106.80 L468.08 106.80 L469.65 106.80 L471.23 106.80 L472.80 106.80 L474.37 106.80 L475.95 106.78 L477.52 106.76 L479.09 106.74 L480.66 106.71 L482.24 106.68 L483.81 106.64 L485.38 106.61 L486.95 106.57 L488.53 106.53 L490.10 106.50 L491.68 106.47 L493.25 106.43 L494.83 106.39 L496.40 106.35 L497.98 106.31 L499.55 106.27 L501.12 106.22 L502.70 106.18 L504.27 106.13 L505.85 106.09 L507.43 106.04 L509.00 106.00 L510.57 105.96 L512.15 105.91 L513.72 105.86 L515.29 105.81 L516.86 105.77 L518.44 105.72 L520.01 105.67 L521.58 105.63 L523.15 105.58 L524.73 105.54 L526.30 105.50 L527.88 105.46 L529.45 105.42 L531.02 105.39 L532.60 105.35 L534.17 105.31 L535.75 105.28 L537.33 105.24 L538.90 105.21 L540.48 105.18 L542.05 105.15 L543.62 105.12 L545.20 105.10 L546.77 105.08 L548.35 105.05 L549.92 105.03 L551.49 105.00 L553.06 104.98 L554.64 104.96 L556.21 104.94 L557.78 104.92 L559.35 104.91 L560.93 104.90 L562.50 104.90 L564.00 104.90 L565.50 104.90 L567.00 104.90 L568.50 104.91 L570.00 104.91 L571.50 104.91 L573.00 104.92 L574.50 104.92 L576.00 104.93 L577.50 104.93 L579.00 104.94 L580.50 104.95 L582.00 104.95 L583.50 104.96 L585.00 104.96 L586.50 104.97 L588.00 104.97 L589.50 104.98 L591.00 104.98 L592.50 104.99 L594.00 104.99 L595.50 104.99 L597.00 105.00 L598.50 105.00 L600.00 105.00 L601.50 105.00 L603.00 105.00 L604.50 105.00 L606.00 105.00 L607.50 105.00 L609.00 105.00 L610.50 105.00 L612.00 105.00 L613.50 105.01 L615.00 105.01 L616.50 105.01 L618.00 105.01 L619.50 105.01 L621.00 105.01 L622.50 105.01 L624.00 105.01 L625.50 105.01 L627.00 105.01 L628.50 105.01 L630.00 105.01 L631.50 105.01 L633.00 105.01 L634.50 105.01 L636.00 105.01 L637.50 105.01 L639.00 105.01 L640.50 105.02 L642.00 105.02 L643.50 105.02 L645.00 105.02 L646.50 105.02 L648.00 105.02 L649.50 105.02 L651.00 105.02 L652.50 105.02 L654.00 105.02 L655.50 105.02 L657.00 105.02 L658.50 105.02 L660.00 105.02 L661.50 105.02 L663.00 105.02 L664.50 105.02 L666.00 105.02 L667.50 105.02 L669.00 105.02 L670.50 105.03 L672.00 105.03 L673.50 105.03 L675.00 105.03 L676.50 105.03 L678.00 105.03 L679.50 105.03 L681.00 105.03 L682.50 105.03 L684.00 105.03 L685.50 105.03 L687.00 105.03 L688.50 105.03 L690.00 105.03 L691.50 105.03 L693.00 105.03 L694.50 105.03 L696.00 105.03 L697.50 105.03 L699.00 105.03 L700.50 105.03 L702.00 105.03 L703.50 105.03 L705.00 105.04 L706.50 105.04 L708.00 105.04 L709.50 105.04 L711.00 105.04 L712.50 105.04 L714.00 105.04 L715.50 105.04 L717.00 105.04 L718.50 105.04 L720.00 105.04 L721.50 105.04 L723.00 105.04 L724.50 105.04 L726.00 105.04 L727.50 105.04 L729.00 105.04 L730.50 105.04 L732.00 105.04 L733.50 105.04 L735.00 105.04 L736.50 105.04 L738.00 105.04 L739.50 105.04 L741.00 105.04 L742.50 105.04 L744.00 105.04 L745.50 105.04 L747.00 105.05 L748.50 105.05 L750.00 105.05 L751.50 105.05 L753.00 105.05 L754.50 105.05 L756.00 105.05 L757.50 105.05 L759.00 105.05 L760.50 105.05 L762.00 105.05 L763.50 105.05 L765.00 105.05 L766.50 105.05 L768.00 105.05 L769.50 105.05 L771.00 105.05 L772.50 105.05 L774.00 105.05 L775.50 105.05 L777.00 105.05 L778.50 105.05 L780.00 105.05 L781.50 105.05 L783.00 105.05 L784.50 105.05 L786.00 105.05 L787.50 105.05 L789.00 105.05 L790.50 105.05 L792.00 105.05 L793.50 105.05 L795.00 105.05 L796.50 105.05 L798.00 105.06 L799.50 105.06 L801.00 105.06 L802.50 105.06 L804.00 105.06 L805.50 105.06 L807.00 105.06 L808.50 105.06 L810.00 105.06 L811.50 105.06 L813.00 105.06 L814.50 105.06 L816.00 105.06 L817.50 105.06 L819.00 105.06 L820.50 105.06 L822.00 105.06 L823.50 105.06 L825.00 105.06 L826.50 105.06 L828.00 105.06 L829.50 105.06 L831.00 105.06 L832.50 105.06 L834.00 105.06 L835.50 105.06 L837.00 105.06 L838.50 105.06 L840.00 105.06 L841.50 105.06 L843.00 105.06 L844.50 105.06 L846.00 105.06 L847.50 105.06 L849.00 105.06 L850.50 105.06 L852.00 105.06 L853.50 105.06 L855.00 105.06 L856.50 105.06 L858.00 105.06 L859.50 105.06 L861.00 105.06 L862.50 105.06 L864.00 105.06 L865.50 105.06 L867.00 105.06 L868.50 105.07 L870.00 105.07 L871.50 105.07 L873.00 105.07 L874.50 105.07 L876.00 105.07 L877.50 105.07 L879.00 105.07 L880.50 105.07 L882.00 105.07 L883.50 105.07 L885.00 105.07 L886.50 105.07 L888.00 105.07 L889.50 105.07 L891.00 105.07 L892.50 105.07 L894.00 105.07 L895.50 105.07 L897.00 105.07 L898.50 105.07 L900.00 105.07 L901.50 105.07 L903.00 105.07 L904.50 105.07 L906.00 105.07 L907.50 105.07 L909.00 105.07 L910.50 105.07 L912.00 105.07 L913.50 105.07 L915.00 105.07 L916.50 105.07 L918.00 105.07 L919.50 105.07 L921.00 105.07 L922.50 105.07 L924.00 105.07 L925.50 105.07 L927.00 105.07 L928.50 105.07 L930.00 105.07 L931.50 105.07 L933.00 105.07 L934.50 105.07 L936.00 105.07 L937.50 105.07 L939.00 105.07 L940.50 105.07 L942.00 105.07 L943.50 105.07 L945.00 105.07 L946.50 105.07 L948.00 105.07 L949.50 105.07 L951.00 105.07 L952.50 105.07 L954.00 105.07 L955.50 105.07 L957.00 105.07 L958.50 105.07 L960.00 105.07 L961.50 105.07 L963.00 105.07 L964.50 105.07 L966.00 105.07 L967.50 105.07 L969.00 105.07 L970.50 105.07 L972.00 105.08 L973.50 105.08 L975.00 105.08 L976.50 105.08 L978.00 105.08 L979.50 105.08 L981.00 105.08 L982.50 105.08 L984.00 105.08 L985.50 105.08 L987.00 105.08 L988.50 105.08 L990.00 105.08 L991.50 105.08 L993.00 105.08 L994.50 105.08 L996.00 105.08 L997.50 105.08 L999.00 105.08 L1000.50 105.08 L1002.00 105.08 L1003.50 105.08 L1005.00 105.08 L1006.50 105.08 L1008.00 105.08 L1009.50 105.08 L1011.00 105.08 L1012.50 105.08 L1014.00 105.08 L1015.50 105.08 L1017.00 105.08 L1018.50 105.08 L1020.00 105.08 L1021.50 105.08 L1023.00 105.08 L1024.50 105.08 L1026.00 105.08 L1027.50 105.08 L1029.00 105.08 L1030.50 105.08 L1032.00 105.08 L1033.50 105.08 L1035.00 105.08 L1036.50 105.08 L1038.00 105.08 L1039.50 105.08 L1041.00 105.08 L1042.50 105.08 L1044.00 105.08 L1045.50 105.08 L1047.00 105.08 L1048.50 105.08 L1050.00 105.08 L1051.50 105.08 L1053.00 105.08 L1054.50 105.08 L1056.00 105.08 L1057.50 105.08 L1059.00 105.08 L1060.50 105.08 L1062.00 105.08 L1063.50 105.08 L1065.00 105.08 L1066.50 105.08 L1068.00 105.08 L1069.50 105.08 L1071.00 105.08 L1072.50 105.08 L1074.00 105.08 L1075.50 105.08 L1077.00 105.08 L1078.50 105.08 L1080.00 105.08 L1081.50 105.08 L1083.00 105.08 L1084.50 105.08 L1086.00 105.08 L1087.50 105.08 L1089.00 105.08 L1090.50 105.08 L1092.00 105.08 L1093.50 105.08 L1095.00 105.09 L1096.50 105.09 L1098.00 105.09 L1099.50 105.09 L1101.00 105.09 L1102.50 105.09 L1104.00 105.09 L1105.50 105.09 L1107.00 105.09 L1108.50 105.09 L1110.00 105.09 L1111.50 105.09 L1113.00 105.09 L1114.50 105.09 L1116.00 105.09 L1117.50 105.09 L1119.00 105.09 L1120.50 105.09 L1122.00 105.09 L1123.50 105.09 L1125.00 105.09 L1126.50 105.09 L1128.00 105.09 L1129.50 105.09 L1131.00 105.09 L1132.50 105.09 L1134.00 105.09 L1135.50 105.09 L1137.00 105.09 L1138.50 105.09 L1140.00 105.09 L1141.50 105.09 L1143.00 105.09 L1144.50 105.09 L1146.00 105.09 L1147.50 105.09 L1149.00 105.09 L1150.50 105.09 L1152.00 105.09 L1153.50 105.09 L1155.00 105.09 L1156.50 105.09 L1158.00 105.09 L1159.50 105.09 L1161.00 105.09 L1162.50 105.09 L1164.00 105.09 L1165.50 105.09 L1167.00 105.09 L1168.50 105.09 L1170.00 105.09 L1171.50 105.09 L1173.00 105.09 L1174.50 105.09 L1176.00 105.09 L1177.50 105.09 L1179.00 105.09 L1180.50 105.09 L1182.00 105.09 L1183.50 105.09 L1185.00 105.10 L1186.50 105.10 L1188.00 105.10 L1189.50 105.10 L1191.00 105.10 L1192.50 105.10 L1194.00 105.10 L1195.50 105.10 L1197.00 105.10 L1198.50 105.10 L1200.00 105.10 L1201.50 105.10 L1203.00 105.10 L1204.50 105.10 L1206.00 105.10 L1207.50 105.10 L1209.00 105.10 L1210.50 105.10 L1212.00 105.10 L1213.50 105.10 L1215.00 105.10 L1216.50 105.10 L1218.00 105.10" stroke="#ffff00" stroke-width="4.5" stroke-dasharray="6 4.6 2.5 4.9" fill="none" stroke-linejoin="round"/>
<rect x="186.0" y="13.0" width="1036.0" height="751.0" stroke="#000" stroke-width="2" fill="none"/>
<text transform="translate(164.00,12.55) scale(1,1.05)" y="12.15" text-anchor="end">1e+00</text>
<text transform="translate(164.00,95.99) scale(1,1.05)" y="12.15" text-anchor="end">1e-01</text>
<text transform="translate(164.00,179.44) scale(1,1.05)" y="12.15" text-anchor="end">1e-02</text>
<text transform="translate(164.00,262.88) scale(1,1.05)" y="12.15" text-anchor="end">1e-03</text>
<text transform="translate(164.00,346.33) scale(1,1.05)" y="12.15" text-anchor="end">1e-04</text>
<text transform="translate(164.00,429.77) scale(1,1.05)" y="12.15" text-anchor="end">1e-05</text>
<text transform="translate(164.00,513.22) scale(1,1.05)" y="12.15" text-anchor="end">1e-06</text>
<text transform="translate(164.00,596.66) scale(1,1.05)" y="12.15" text-anchor="end">1e-07</text>
<text transform="translate(164.00,680.11) scale(1,1.05)" y="12.15" text-anchor="end">1e-08</text>
<text transform="translate(164.00,763.55) scale(1,1.05)" y="12.15" text-anchor="end">1e-09</text>
<text transform="translate(189.20,800.25) scale(1,1.05)" y="12.15" text-anchor="middle">0.1</text>
<text transform="translate(397.70,800.25) scale(1,1.05)" y="12.15" text-anchor="middle">1</text>
<text transform="translate(604.90,800.25) scale(1,1.05)" y="12.15" text-anchor="middle">10</text>
<text transform="translate(812.10,800.25) scale(1,1.05)" y="12.15" text-anchor="middle">100</text>
<text transform="translate(1019.30,800.25) scale(1,1.05)" y="12.15" text-anchor="middle">1000</text>
<text transform="translate(1226.50,800.25) scale(1,1.05)" y="12.15" text-anchor="middle">10000</text>
<text transform="translate(703.60,854.05) scale(1,1.03)" y="12.15" text-anchor="middle">time [s]</text>
<text transform="translate(24.4,461) rotate(-90)">E<tspan font-size="29" dy="12">kin</tspan><tspan dy="-12"> [J/m]</tspan></text>
<text font-size="37" transform="translate(360.20,554.15) scale(1,1.0)" y="12.15" text-anchor="end">Ra 1100</text>
<path d="M380.7 553.9H479" stroke="#ff0000" stroke-width="4.5" fill="none"/>
<text font-size="37" transform="translate(360.20,590.25) scale(1,1.0)" y="12.15" text-anchor="end">Ra 1700</text>
<path d="M380.7 590.0H479" stroke="#00ff00" stroke-width="4.5" stroke-dasharray="7.5 3.3" fill="none"/>
<text font-size="37" transform="translate(360.20,626.35) scale(1,1.0)" y="12.15" text-anchor="end">Ra 1704</text>
<path d="M380.7 626.1H479" stroke="#0000ff" stroke-width="4.5" stroke-dasharray="4.3 4.7" fill="none"/>
<text font-size="37" transform="translate(360.20,662.45) scale(1,1.0)" y="12.15" text-anchor="end">Ra 1710</text>
<path d="M380.7 662.2H479" stroke="#ff00ff" stroke-width="4.5" stroke-dasharray="2.2 2.3" fill="none"/>
<text font-size="37" transform="translate(360.20,698.55) scale(1,1.0)" y="12.15" text-anchor="end">Ra 2000</text>
<path d="M380.7 698.3H479" stroke="#00ffff" stroke-width="4.5" stroke-dasharray="11.5 3.2 2.2 2.9" fill="none"/>
<text font-size="37" transform="translate(360.20,734.65) scale(1,1.0)" y="12.15" text-anchor="end">Ra 5000</text>
<path d="M380.7 734.4H479" stroke="#ffff00" stroke-width="4.5" stroke-dasharray="6 4.6 2.5 4.9" fill="none"/>
</svg></body></html>
